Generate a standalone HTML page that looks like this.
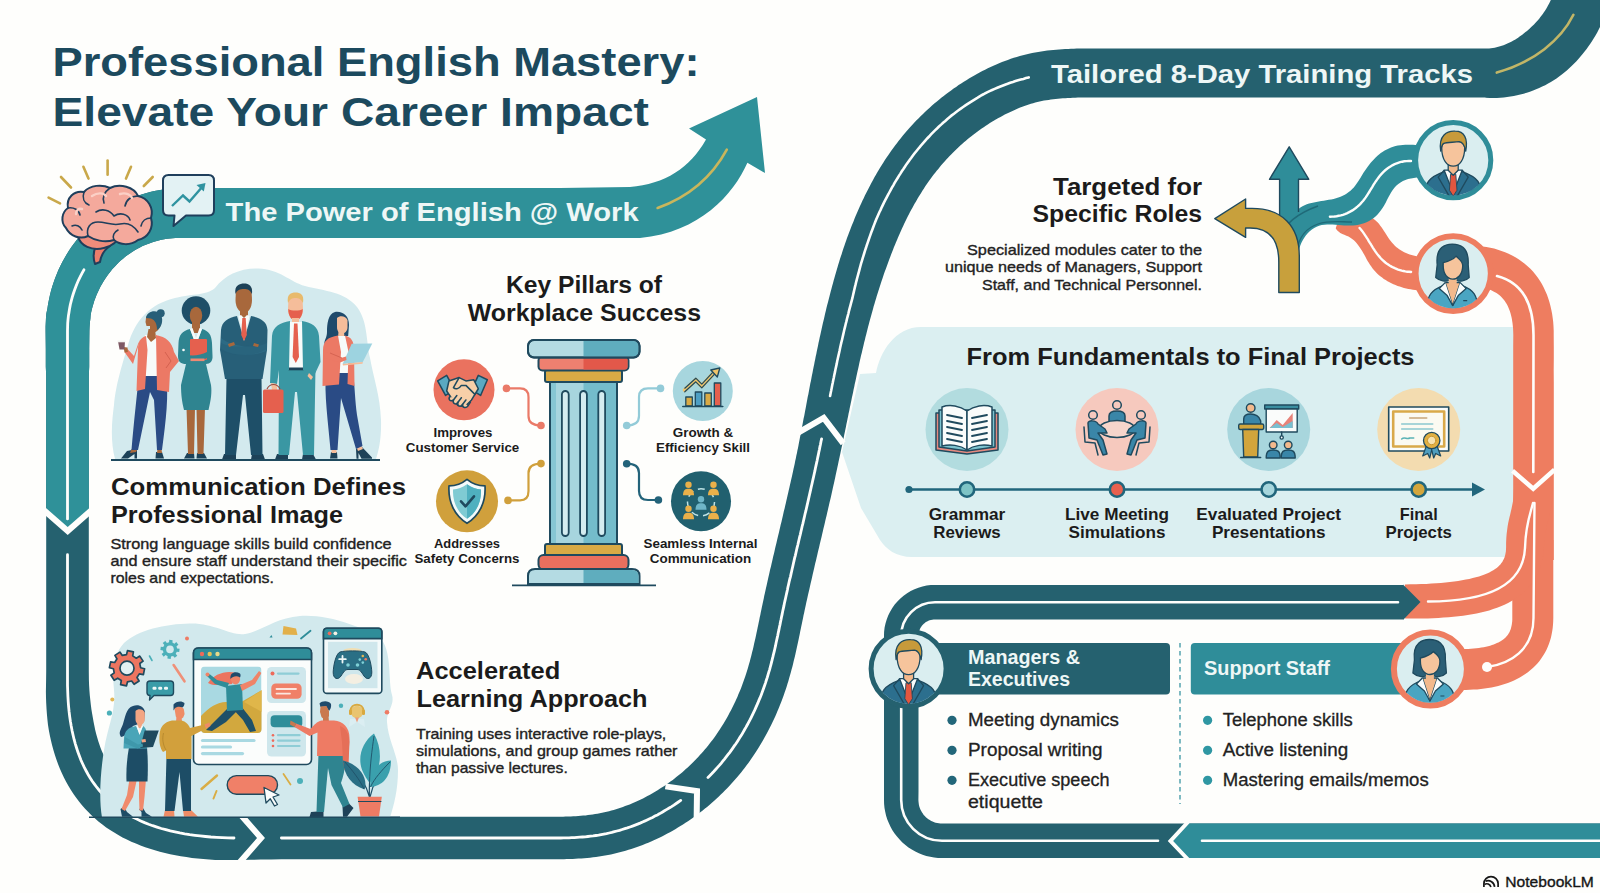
<!DOCTYPE html>
<html lang="en"><head><meta charset="utf-8"><title>Professional English Mastery: Elevate Your Career Impact</title>
<style>
html,body{margin:0;padding:0;background:#fefefc;}
body{width:1600px;height:893px;overflow:hidden;}
svg{display:block;font-family:"Liberation Sans", "DejaVu Sans", sans-serif;}
text{font-family:"Liberation Sans", "DejaVu Sans", sans-serif;}
</style></head><body>
<svg width="1600" height="893" viewBox="0 0 1600 893">
<rect width="1600" height="893" fill="#fefefc"/>
<g id="part_panel">
<path d="M921,327 L1530,327 L1530,557 L912,557 C896,557 886,549 880,540 L861,508 L842,452 L860,374 L876,373 C880,352 895,327 921,327 Z" fill="#dbeff1"/>
<text x="1190.5" y="364.5" font-size="23" font-weight="bold" fill="#1b1b1b" text-anchor="middle" textLength="448" lengthAdjust="spacingAndGlyphs">From Fundamentals to Final Projects</text>
<line x1="909" y1="489.5" x2="1474" y2="489.5" stroke="#21667c" stroke-width="2.6"/>
<circle cx="909" cy="489.5" r="3.6" fill="#21667c"/>
<path d="M1472,482.6 L1485,489.5 L1472,496.4 Z" fill="#21667c"/>
<circle cx="967" cy="429.5" r="41.5" fill="#b2dcdf"/>
<circle cx="967" cy="489.5" r="7.2" fill="#7ec4c6" stroke="#21667c" stroke-width="2.6"/>
<circle cx="1117" cy="429.5" r="41.5" fill="#f6c9be"/>
<circle cx="1117" cy="489.5" r="7.2" fill="#e8614f" stroke="#21667c" stroke-width="2.6"/>
<circle cx="1268.7" cy="429.5" r="41.5" fill="#a8d6dd"/>
<circle cx="1268.7" cy="489.5" r="7.2" fill="#a6d6dd" stroke="#21667c" stroke-width="2.6"/>
<circle cx="1418.7" cy="429.5" r="41.5" fill="#f3dcb0"/>
<circle cx="1418.7" cy="489.5" r="7.2" fill="#d4a63c" stroke="#21667c" stroke-width="2.6"/>
<text x="967" y="520" font-size="16.5" font-weight="bold" fill="#1b1b1b" text-anchor="middle" textLength="76.6" lengthAdjust="spacingAndGlyphs">Grammar</text>
<text x="967" y="538.3" font-size="16.5" font-weight="bold" fill="#1b1b1b" text-anchor="middle" textLength="67.5" lengthAdjust="spacingAndGlyphs">Reviews</text>
<text x="1117" y="520" font-size="16.5" font-weight="bold" fill="#1b1b1b" text-anchor="middle" textLength="104" lengthAdjust="spacingAndGlyphs">Live Meeting</text>
<text x="1117" y="538.3" font-size="16.5" font-weight="bold" fill="#1b1b1b" text-anchor="middle" textLength="97" lengthAdjust="spacingAndGlyphs">Simulations</text>
<text x="1268.7" y="520" font-size="16.5" font-weight="bold" fill="#1b1b1b" text-anchor="middle" textLength="144.7" lengthAdjust="spacingAndGlyphs">Evaluated Project</text>
<text x="1268.7" y="538.3" font-size="16.5" font-weight="bold" fill="#1b1b1b" text-anchor="middle" textLength="113.6" lengthAdjust="spacingAndGlyphs">Presentations</text>
<text x="1418.7" y="520" font-size="16.5" font-weight="bold" fill="#1b1b1b" text-anchor="middle" textLength="38" lengthAdjust="spacingAndGlyphs">Final</text>
<text x="1418.7" y="538.3" font-size="16.5" font-weight="bold" fill="#1b1b1b" text-anchor="middle" textLength="66.4" lengthAdjust="spacingAndGlyphs">Projects</text>
<g transform="translate(967,430)" stroke="#1f4a5e" stroke-width="1.5" stroke-linejoin="round">
<path d="M-31,-17 L-31,20 L0,24 L31,20 L31,-17 Z" fill="#e58a80"/>
<path d="M-28,-20 L-28,17 L0,21 L28,17 L28,-20 Z" fill="#7cc3cf"/>
<path d="M-25,-23 C-17,-26 -7,-24 0,-19 L0,20 C-7,15 -17,14 -25,16 Z" fill="#fafcfb"/>
<path d="M25,-23 C17,-26 7,-24 0,-19 L0,20 C7,15 17,14 25,16 Z" fill="#fafcfb"/>
<g stroke-width="1.8" stroke-linecap="round" fill="none">
<path d="M-20,-15 L-5,-12 M-20,-9 L-5,-6 M-20,-3 L-5,0 M-20,3 L-5,6 M-20,9 L-5,12"/>
<path d="M20,-15 L5,-12 M20,-9 L5,-6 M20,-3 L5,0 M20,3 L5,6 M20,9 L5,12"/>
</g></g>
<g transform="translate(1117,430)" stroke="#1f4a5e" stroke-width="1.5" stroke-linejoin="round" stroke-linecap="round">
<circle cx="0" cy="-25" r="4.3" fill="#f6c9be"/>
<path d="M-8,-8 L-8,-14 C-8,-18 -5,-19 0,-19 C5,-19 8,-18 8,-14 L8,-8 Z" fill="#3a86a8"/>
<ellipse cx="0" cy="-1" rx="18" ry="8.5" fill="#f6d5cb"/>
<circle cx="-24" cy="-15" r="4.3" fill="#f6c9be"/>
<circle cx="24" cy="-15" r="4.3" fill="#f6c9be"/>
<path d="M-29,-7 C-29,-10 -21,-10 -19,-6 L-12,-1 L-10,3 L-19,3 L-14,10 L-10,24 L-14,25 L-20,10 L-28,8 Z" fill="#3a86a8"/>
<path d="M29,-7 C29,-10 21,-10 19,-6 L12,-1 L10,3 L19,3 L14,10 L10,24 L14,25 L20,10 L28,8 Z" fill="#3a86a8"/>
<path d="M-33,-3 L-32,12 L-22,13 L-19,25 M33,-3 L32,12 L22,13 L19,25" fill="none"/>
</g>
<g transform="translate(1268.7,430)" stroke="#1f4a5e" stroke-width="1.4" stroke-linejoin="round" stroke-linecap="round">
<circle cx="-18" cy="-22" r="4.3" fill="#f3b98c"/>
<path d="M-25,-5 L-25,-11 C-25,-15 -22,-16 -18,-16 C-14,-16 -9,-14 -8,-9 L-8,-5 Z" fill="#3a86a8"/>
<rect x="-30" y="-6" width="25" height="5.5" rx="1.5" fill="#d2a53c"/>
<path d="M-26,-0.5 L-10,-0.5 L-11,27 L-25,27 Z" fill="#d2a53c"/>
<line x1="-28" y1="27.5" x2="-8" y2="27.5"/>
<rect x="-4" y="-25" width="34" height="4" fill="#3a8ea0"/>
<rect x="-2.5" y="-21" width="31" height="23" fill="#fafcfb"/>
<path d="M1,-2 L8,-10 L14,-5 L24,-17 L24,-2 Z" fill="#e7837a" stroke="none"/>
<path d="M1,-2 L8,-7 L14,-3 L24,-9 L24,-2 Z" fill="#79bfd0" stroke="none"/>
<line x1="13" y1="2" x2="13" y2="6"/><circle cx="13" cy="7.5" r="1.6" fill="#fafcfb"/>
<circle cx="4.5" cy="15" r="3.8" fill="#f3b98c"/><circle cx="19.5" cy="15" r="3.8" fill="#f3b98c"/>
<path d="M-2.5,28 C-2.5,21 0,20 4.5,20 C9,20 11.5,21 11.5,28 Z" fill="#3a86a8"/>
<path d="M12.5,28 C12.5,21 15,20 19.5,20 C24,20 26.5,21 26.5,28 Z" fill="#3a86a8"/>
</g>
<g transform="translate(1418.7,430)" stroke-linejoin="round" stroke-linecap="round">
<rect x="-30" y="-23" width="60" height="44" fill="#fafcfb" stroke="#1f4a5e" stroke-width="1.6"/>
<rect x="-25.5" y="-18.5" width="51" height="35" fill="#fbfaf2" stroke="#d9a94a" stroke-width="2.6"/>
<line x1="-9" y1="-12" x2="8" y2="-12" stroke="#c9a77a" stroke-width="1.6"/>
<line x1="-17" y1="-6" x2="14" y2="-6" stroke="#8cc7cf" stroke-width="1.6"/>
<line x1="-17" y1="-1" x2="14" y2="-1" stroke="#8cc7cf" stroke-width="1.6"/>
<path d="M-17,9 C-14,6 -12,10 -9,8 L-5,8" fill="none" stroke="#5ab3b5" stroke-width="1.6"/>
<path d="M8,15 L4,26 L9,23.5 L11,28 L14,16 Z" fill="#4f9fc0" stroke="#1f4a5e" stroke-width="1.2"/>
<path d="M18,15 L22,26 L17,23.5 L15,28 L12,16 Z" fill="#4f9fc0" stroke="#1f4a5e" stroke-width="1.2"/>
<circle cx="13" cy="10.5" r="8.2" fill="#e2b043" stroke="#1f4a5e" stroke-width="1.3"/>
<circle cx="13" cy="10.5" r="4.2" fill="#f7e3b0" stroke="#c8962e" stroke-width="1"/>
</g>
</g>
<g id="part_road">
<path d="M640.0,188.0 L624.2,188.0 L608.3,188.0 L592.5,188.0 L576.7,188.0 L560.9,188.0 L545.0,188.0 L529.2,188.0 L513.4,188.0 L497.6,188.0 L481.7,188.0 L465.9,188.0 L450.1,188.0 L434.2,188.0 L418.4,188.0 L402.6,188.0 L386.8,188.0 L370.9,188.0 L355.1,188.0 L339.3,188.0 L323.4,188.0 L307.6,188.0 L291.8,188.0 L276.0,188.0 L260.1,188.0 L244.3,188.0 L228.5,188.0 L212.7,188.0 L196.8,188.0 L180.9,188.1 L176.5,188.2 L172.1,188.5 L167.6,188.9 L163.2,189.5 L158.8,190.2 L154.4,191.1 L150.1,192.1 L145.8,193.3 L141.5,194.6 L137.3,196.1 L133.1,197.6 L129.0,199.4 L125.0,201.2 L121.0,203.2 L117.1,205.3 L113.2,207.6 L109.5,210.0 L105.8,212.5 L102.2,215.1 L98.7,217.8 L95.2,220.7 L91.9,223.6 L88.7,226.7 L85.5,229.8 L82.5,233.1 L79.5,236.4 L76.7,239.9 L74.0,243.4 L71.4,247.1 L68.9,250.8 L66.6,254.5 L64.3,258.4 L62.2,262.3 L60.2,266.3 L58.3,270.3 L56.6,274.4 L55.0,278.6 L53.5,282.8 L52.1,287.1 L50.9,291.3 L49.8,295.7 L48.9,300.0 L48.0,304.4 L47.4,308.8 L46.4,313.2 L46.0,317.6 L45.8,322.1 L45.6,326.5 L45.6,330.9 L45.7,339.9 L45.8,348.9 L45.8,357.8 L45.8,366.8 L46.2,375.7 L46.2,384.7 L46.2,393.6 L46.2,402.6 L46.2,411.5 L46.2,420.5 L46.2,429.4 L46.2,438.4 L46.2,447.3 L46.2,456.3 L46.2,465.2 L46.2,474.2 L46.2,483.1 L46.2,492.1 L46.2,501.0 L46.2,510.0 L46.2,518.9 L46.2,527.9 L46.2,536.8 L46.2,545.8 L46.2,554.7 L46.2,563.7 L46.2,572.6 L46.2,581.6 L46.2,590.5 L46.2,599.5 L46.2,608.4 L46.2,617.4 L46.2,626.3 L46.2,635.3 L46.2,644.2 L46.2,653.2 L46.2,662.1 L46.2,671.1 L46.1,680.1 L46.0,685.9 L45.9,691.7 L46.0,697.4 L46.2,703.1 L46.5,708.6 L46.9,714.1 L47.4,719.5 L48.0,724.9 L48.8,730.1 L49.8,735.2 L50.9,740.3 L52.1,745.2 L53.4,750.1 L54.9,754.9 L56.4,759.6 L58.1,764.2 L59.9,768.7 L61.9,773.2 L63.9,777.5 L66.1,781.8 L68.5,785.9 L70.9,790.0 L73.5,794.0 L76.2,797.8 L79.0,801.6 L82.0,805.2 L85.1,808.7 L88.3,812.1 L91.7,815.4 L95.1,818.6 L98.7,821.7 L102.4,824.6 L106.2,827.4 L110.1,830.1 L114.2,832.6 L118.3,835.1 L122.5,837.4 L126.9,839.6 L131.3,841.7 L135.9,843.6 L140.5,845.5 L145.2,847.2 L150.0,848.8 L154.9,850.3 L159.9,851.7 L165.0,853.0 L170.2,854.2 L175.5,855.2 L180.9,856.2 L186.4,857.1 L191.9,857.9 L197.6,858.6 L203.4,859.1 L209.2,859.6 L215.2,859.9 L221.2,860.0 L227.4,860.1 L233.7,860.0 L239.9,859.9 L250.3,859.8 L260.7,859.6 L271.0,859.4 L281.4,859.2 L291.7,859.2 L302.1,859.2 L312.4,859.2 L322.8,859.2 L333.1,859.2 L343.4,859.2 L353.8,859.2 L364.1,859.2 L374.5,859.2 L384.8,859.2 L395.2,859.2 L405.5,859.2 L415.9,859.2 L426.2,859.2 L436.6,859.2 L446.9,859.2 L457.2,859.2 L467.6,859.2 L477.9,859.2 L488.3,859.2 L498.6,859.2 L509.0,859.2 L519.3,859.2 L529.7,859.2 L540.0,859.2 L541.6,859.3 L544.4,859.3 L547.1,859.3 L549.9,859.3 L552.7,859.3 L555.5,859.3 L558.3,859.3 L561.1,859.2 L564.0,859.2 L566.8,859.1 L569.7,859.0 L572.6,858.9 L575.5,858.8 L578.4,858.6 L581.3,858.4 L584.2,858.2 L587.2,857.9 L590.1,857.7 L593.1,857.3 L596.0,856.9 L599.0,856.5 L602.0,856.1 L605.0,855.5 L608.0,855.0 L610.9,854.4 L613.9,853.7 L616.8,853.0 L619.7,852.3 L622.7,851.5 L625.6,850.7 L628.5,849.8 L631.3,848.9 L634.2,848.0 L637.1,847.0 L639.9,846.0 L642.7,844.9 L645.5,843.8 L648.3,842.7 L651.1,841.5 L653.8,840.3 L656.6,839.0 L659.3,837.7 L662.0,836.4 L664.7,835.0 L667.4,833.6 L670.0,832.2 L672.7,830.7 L675.3,829.2 L677.9,827.6 L680.4,826.1 L683.0,824.5 L685.5,822.8 L688.0,821.2 L690.5,819.5 L693.0,817.7 L695.5,816.0 L697.9,814.2 L700.3,812.3 L702.7,810.5 L705.0,808.6 L707.4,806.7 L709.7,804.7 L711.9,802.8 L714.2,800.8 L716.4,798.7 L718.6,796.7 L720.8,794.6 L723.0,792.5 L725.1,790.3 L727.2,788.2 L729.3,786.0 L731.3,783.8 L733.3,781.5 L735.3,779.3 L737.3,777.0 L739.2,774.7 L741.1,772.4 L743.0,770.0 L744.8,767.7 L746.6,765.3 L748.4,762.9 L750.1,760.4 L751.8,758.0 L753.5,755.5 L755.2,753.0 L756.8,750.5 L758.4,748.0 L759.9,745.5 L761.4,742.9 L762.9,740.4 L764.4,737.8 L765.8,735.2 L767.3,732.6 L768.6,730.0 L770.0,727.3 L771.3,724.7 L772.6,722.0 L773.8,719.4 L775.1,716.7 L776.3,714.0 L777.4,711.3 L778.6,708.6 L779.7,705.8 L780.8,703.1 L781.8,700.4 L782.9,697.6 L783.9,694.8 L784.8,692.1 L785.8,689.3 L786.7,686.5 L787.5,683.7 L788.4,680.9 L789.2,678.1 L790.0,675.3 L790.8,672.6 L791.5,669.8 L792.3,667.0 L793.0,664.2 L793.6,661.5 L794.3,658.7 L795.0,656.0 L795.6,653.2 L796.2,650.5 L796.8,647.7 L797.4,645.0 L798.0,642.3 L798.6,639.6 L799.1,636.9 L799.7,634.2 L800.2,631.5 L800.8,628.8 L801.3,626.2 L801.9,623.5 L802.4,620.9 L803.0,618.3 L803.5,615.6 L804.1,613.0 L804.6,610.4 L805.2,607.8 L805.8,605.1 L806.3,602.5 L806.9,599.9 L807.5,597.3 L808.1,594.6 L808.7,592.0 L809.3,589.4 L809.9,586.7 L810.5,584.1 L811.1,581.5 L811.7,578.9 L812.3,576.2 L812.9,573.6 L813.5,571.0 L814.1,568.4 L814.7,565.7 L815.3,563.1 L816.0,560.5 L816.6,557.8 L817.2,555.2 L817.8,552.6 L818.4,549.9 L819.1,547.3 L819.7,544.6 L820.3,542.0 L820.9,539.4 L821.6,536.7 L822.2,534.1 L822.8,531.4 L823.4,528.8 L824.1,526.1 L824.7,523.5 L825.3,520.8 L825.9,518.2 L826.6,515.5 L827.2,512.8 L827.8,510.2 L828.4,507.5 L829.0,504.9 L829.6,502.2 L830.3,499.5 L830.9,496.9 L831.5,494.2 L832.1,491.5 L832.7,488.8 L833.3,486.1 L833.9,483.5 L834.5,480.8 L835.1,478.1 L835.6,475.4 L836.2,472.7 L836.8,470.0 L837.4,467.3 L838.0,464.6 L838.5,461.9 L839.1,459.2 L839.7,456.5 L840.3,453.8 L840.8,451.2 L841.4,448.5 L842.0,445.8 L842.5,443.1 L843.1,440.4 L843.7,437.7 L844.2,435.0 L844.8,432.3 L845.3,429.7 L845.9,427.0 L846.4,424.3 L847.0,421.6 L847.5,418.9 L848.1,416.3 L848.6,413.6 L849.2,410.9 L849.7,408.3 L850.3,405.6 L850.8,402.9 L851.4,400.2 L851.9,397.6 L852.5,394.9 L853.1,392.3 L853.6,389.6 L854.2,387.0 L854.7,384.3 L855.3,381.7 L855.9,379.0 L856.4,376.4 L857.0,373.7 L857.6,371.1 L858.2,368.4 L858.8,365.8 L859.3,363.2 L859.9,360.6 L860.5,357.9 L861.1,355.3 L861.8,352.7 L862.4,350.1 L863.0,347.5 L863.6,344.9 L864.2,342.3 L864.9,339.7 L865.5,337.1 L866.2,334.5 L866.8,331.9 L867.5,329.3 L868.1,326.8 L868.8,324.2 L869.5,321.6 L870.2,319.1 L870.9,316.5 L871.6,313.9 L872.3,311.4 L873.0,308.9 L873.7,306.3 L874.5,303.8 L875.2,301.2 L876.0,298.7 L876.7,296.2 L877.5,293.7 L878.3,291.2 L879.1,288.7 L879.9,286.2 L880.7,283.7 L881.5,281.2 L882.4,278.7 L883.2,276.3 L884.0,273.8 L884.9,271.3 L885.8,268.9 L886.7,266.4 L887.6,264.0 L888.5,261.6 L889.4,259.1 L890.3,256.7 L891.2,254.3 L892.1,251.9 L893.1,249.4 L894.0,247.1 L895.0,244.7 L896.0,242.3 L897.0,239.9 L898.0,237.5 L899.0,235.2 L900.0,232.9 L901.1,230.5 L902.1,228.2 L903.2,225.9 L904.3,223.6 L905.4,221.3 L906.5,219.1 L907.6,216.8 L908.8,214.6 L909.9,212.3 L911.1,210.1 L912.3,207.9 L913.5,205.7 L914.7,203.5 L916.0,201.4 L917.2,199.2 L918.5,197.1 L919.8,195.0 L921.1,192.9 L922.4,190.8 L923.8,188.7 L925.1,186.6 L926.5,184.6 L927.9,182.6 L929.3,180.6 L930.8,178.6 L932.2,176.6 L933.7,174.6 L935.2,172.7 L936.7,170.8 L938.3,168.9 L939.8,167.0 L941.4,165.1 L943.0,163.3 L944.6,161.4 L946.3,159.6 L948.0,157.8 L949.6,156.0 L951.4,154.2 L953.1,152.5 L954.9,150.7 L956.7,149.0 L958.5,147.3 L960.3,145.6 L962.1,144.0 L964.0,142.3 L965.9,140.7 L967.8,139.1 L969.7,137.6 L971.7,136.0 L973.6,134.5 L975.6,133.0 L977.6,131.5 L979.6,130.0 L981.7,128.6 L983.7,127.2 L985.8,125.8 L987.8,124.4 L989.9,123.1 L992.0,121.8 L994.1,120.5 L996.2,119.3 L998.4,118.1 L1000.5,116.9 L1002.7,115.7 L1004.8,114.6 L1007.0,113.5 L1009.2,112.4 L1011.4,111.4 L1013.6,110.4 L1015.7,109.4 L1017.9,108.5 L1020.1,107.6 L1022.3,106.8 L1024.4,106.0 L1026.6,105.2 L1028.8,104.5 L1030.9,103.8 L1033.1,103.2 L1035.3,102.6 L1037.4,102.0 L1039.6,101.5 L1041.8,101.1 L1044.0,100.6 L1046.3,100.2 L1048.6,99.9 L1050.9,99.5 L1053.2,99.2 L1055.6,99.0 L1058.0,98.7 L1060.4,98.5 L1062.8,98.3 L1065.3,98.2 L1067.8,98.0 L1070.3,97.9 L1072.8,97.8 L1075.3,97.7 L1077.9,97.6 L1080.5,97.6 L1083.1,97.5 L1085.7,97.5 L1088.3,97.5 L1090.0,97.5 L1103.7,97.5 L1117.4,97.5 L1131.1,97.5 L1144.8,97.5 L1158.4,97.5 L1172.1,97.5 L1185.8,97.5 L1199.5,97.5 L1213.2,97.5 L1226.9,97.5 L1240.6,97.5 L1254.3,97.5 L1268.0,97.5 L1281.7,97.5 L1295.3,97.5 L1309.0,97.5 L1322.7,97.5 L1336.4,97.5 L1350.1,97.5 L1363.8,97.5 L1377.5,97.5 L1391.2,97.5 L1404.9,97.5 L1418.6,97.5 L1432.2,97.5 L1445.9,97.5 L1459.6,97.5 L1473.3,97.6 L1486.6,97.6 L1484.8,97.8 L1490.0,98.0 L1493.4,98.0 L1496.9,97.9 L1500.3,97.7 L1503.7,97.4 L1507.1,97.1 L1510.4,96.6 L1513.8,96.0 L1517.1,95.3 L1520.3,94.6 L1523.6,93.7 L1526.8,92.7 L1529.9,91.7 L1533.1,90.6 L1536.1,89.3 L1539.2,88.0 L1542.2,86.6 L1545.2,85.2 L1548.1,83.6 L1550.9,82.0 L1553.7,80.2 L1556.5,78.4 L1559.1,76.5 L1561.8,74.6 L1564.3,72.5 L1566.8,70.4 L1569.2,68.3 L1571.6,66.0 L1573.9,63.7 L1576.2,61.4 L1578.4,59.0 L1580.5,56.6 L1582.6,54.1 L1584.6,51.5 L1586.6,49.0 L1588.5,46.3 L1590.3,43.7 L1592.1,41.0 L1593.8,38.2 L1595.5,35.5 L1597.1,32.7 L1598.6,29.8 L1600.1,26.9 L1601.5,24.0 L1602.8,21.1 L1604.1,18.1 L1605.3,15.1 L1606.4,12.1 L1607.5,9.1 L1608.5,6.0 L1609.4,2.9 L1610.2,-0.3 L1611.0,-3.4 L1611.7,-6.6 L1612.4,-9.8 L1612.9,-13.0 L1613.4,-16.2 L1613.8,-19.4 L1614.1,-22.3 L1558.3,-27.7 L1558.1,-25.5 L1557.9,-23.6 L1557.6,-21.8 L1557.3,-19.9 L1556.9,-18.1 L1556.5,-16.2 L1556.1,-14.4 L1555.5,-12.5 L1555.0,-10.7 L1554.4,-8.8 L1553.8,-7.0 L1553.1,-5.1 L1552.3,-3.3 L1551.6,-1.5 L1550.7,0.3 L1549.9,2.1 L1549.0,3.8 L1548.0,5.6 L1547.1,7.3 L1546.1,9.0 L1545.0,10.7 L1543.9,12.3 L1542.8,14.0 L1541.6,15.5 L1540.4,17.1 L1539.2,18.7 L1537.9,20.2 L1536.7,21.6 L1535.3,23.1 L1534.0,24.5 L1532.6,25.8 L1531.2,27.1 L1529.8,28.4 L1528.4,29.7 L1527.0,30.9 L1525.5,32.1 L1524.0,33.3 L1522.6,34.4 L1521.1,35.5 L1519.6,36.6 L1518.1,37.7 L1516.5,38.7 L1515.0,39.7 L1513.4,40.6 L1511.8,41.5 L1510.2,42.3 L1508.5,43.1 L1506.9,43.8 L1505.2,44.5 L1503.5,45.2 L1501.8,45.8 L1500.1,46.3 L1498.3,46.8 L1496.5,47.3 L1494.7,47.7 L1492.9,48.0 L1491.0,48.3 L1489.1,48.4 L1488.9,48.6 L1487.4,48.4 L1473.3,48.4 L1459.6,48.5 L1445.9,48.5 L1432.2,48.5 L1418.6,48.5 L1404.9,48.5 L1391.2,48.5 L1377.5,48.5 L1363.8,48.5 L1350.1,48.5 L1336.4,48.5 L1322.7,48.5 L1309.0,48.5 L1295.3,48.5 L1281.7,48.5 L1268.0,48.5 L1254.3,48.5 L1240.6,48.5 L1226.9,48.5 L1213.2,48.5 L1199.5,48.5 L1185.8,48.5 L1172.1,48.5 L1158.4,48.5 L1144.8,48.5 L1131.1,48.5 L1117.4,48.5 L1103.7,48.5 L1090.0,48.5 L1088.1,48.5 L1085.3,48.5 L1082.5,48.6 L1079.6,48.6 L1076.8,48.6 L1073.9,48.7 L1071.0,48.8 L1068.1,48.9 L1065.1,49.1 L1062.2,49.3 L1059.2,49.5 L1056.3,49.7 L1053.3,50.0 L1050.3,50.3 L1047.3,50.6 L1044.3,51.0 L1041.2,51.4 L1038.2,51.9 L1035.1,52.5 L1032.1,53.0 L1029.0,53.7 L1025.9,54.4 L1022.9,55.2 L1019.8,56.0 L1016.8,56.9 L1013.8,57.8 L1010.8,58.8 L1007.8,59.9 L1004.9,60.9 L1002.0,62.1 L999.1,63.2 L996.3,64.4 L993.4,65.7 L990.6,67.0 L987.8,68.3 L985.1,69.7 L982.3,71.1 L979.6,72.5 L976.9,74.0 L974.3,75.5 L971.6,77.0 L969.0,78.6 L966.4,80.2 L963.8,81.8 L961.2,83.5 L958.6,85.1 L956.1,86.9 L953.6,88.6 L951.1,90.4 L948.6,92.2 L946.2,94.0 L943.7,95.9 L941.3,97.8 L939.0,99.7 L936.6,101.7 L934.3,103.6 L932.0,105.6 L929.7,107.7 L927.4,109.7 L925.2,111.8 L923.0,113.9 L920.8,116.0 L918.7,118.2 L916.5,120.3 L914.4,122.5 L912.4,124.7 L910.3,127.0 L908.3,129.2 L906.3,131.5 L904.4,133.8 L902.5,136.1 L900.6,138.4 L898.7,140.8 L896.9,143.2 L895.1,145.5 L893.3,147.9 L891.6,150.3 L889.9,152.8 L888.2,155.2 L886.6,157.6 L884.9,160.1 L883.4,162.6 L881.8,165.1 L880.2,167.6 L878.7,170.1 L877.2,172.6 L875.8,175.1 L874.3,177.6 L872.9,180.2 L871.5,182.7 L870.2,185.3 L868.8,187.9 L867.5,190.5 L866.2,193.0 L864.9,195.6 L863.7,198.2 L862.4,200.8 L861.2,203.5 L860.0,206.1 L858.8,208.7 L857.7,211.3 L856.5,214.0 L855.4,216.6 L854.3,219.2 L853.3,221.9 L852.2,224.5 L851.1,227.2 L850.1,229.9 L849.1,232.5 L848.1,235.2 L847.1,237.8 L846.2,240.5 L845.2,243.2 L844.3,245.9 L843.4,248.5 L842.5,251.2 L841.7,253.9 L840.8,256.6 L839.9,259.3 L839.1,261.9 L838.3,264.6 L837.5,267.3 L836.7,270.0 L835.9,272.7 L835.1,275.4 L834.4,278.1 L833.6,280.8 L832.9,283.5 L832.1,286.2 L831.4,288.9 L830.7,291.6 L830.0,294.3 L829.3,297.0 L828.6,299.7 L827.9,302.4 L827.2,305.1 L826.5,307.8 L825.9,310.6 L825.2,313.3 L824.6,316.0 L824.0,318.7 L823.3,321.4 L822.7,324.1 L822.1,326.8 L821.5,329.5 L820.9,332.2 L820.3,334.9 L819.7,337.6 L819.1,340.4 L818.5,343.1 L818.0,345.8 L817.4,348.5 L816.8,351.2 L816.3,353.9 L815.7,356.6 L815.2,359.3 L814.6,362.0 L814.1,364.7 L813.5,367.4 L813.0,370.1 L812.5,372.8 L811.9,375.5 L811.4,378.2 L810.9,380.9 L810.3,383.6 L809.8,386.3 L809.3,389.0 L808.8,391.7 L808.3,394.4 L807.7,397.1 L807.2,399.8 L806.7,402.5 L806.2,405.2 L805.7,407.9 L805.2,410.6 L804.7,413.2 L804.2,415.9 L803.6,418.6 L803.1,421.3 L802.6,423.9 L802.1,426.6 L801.6,429.3 L801.1,432.0 L800.6,434.6 L800.0,437.3 L799.5,439.9 L799.0,442.6 L798.5,445.3 L798.0,447.9 L797.4,450.6 L796.9,453.2 L796.3,455.8 L795.8,458.5 L795.2,461.1 L794.7,463.8 L794.1,466.4 L793.5,469.0 L793.0,471.6 L792.4,474.3 L791.8,476.9 L791.2,479.5 L790.6,482.2 L790.0,484.8 L789.4,487.4 L788.8,490.1 L788.2,492.7 L787.6,495.3 L787.0,497.9 L786.4,500.6 L785.8,503.2 L785.2,505.8 L784.6,508.5 L783.9,511.1 L783.3,513.7 L782.7,516.4 L782.1,519.0 L781.5,521.7 L780.8,524.3 L780.2,526.9 L779.6,529.6 L779.0,532.2 L778.3,534.9 L777.7,537.5 L777.1,540.1 L776.5,542.8 L775.8,545.4 L775.2,548.1 L774.6,550.7 L774.0,553.4 L773.3,556.0 L772.7,558.7 L772.1,561.4 L771.5,564.0 L770.9,566.7 L770.2,569.3 L769.6,572.0 L769.0,574.7 L768.4,577.3 L767.8,580.0 L767.2,582.7 L766.6,585.4 L766.0,588.0 L765.4,590.7 L764.8,593.4 L764.2,596.1 L763.7,598.8 L763.1,601.5 L762.5,604.2 L761.9,606.9 L761.4,609.6 L760.8,612.2 L760.3,614.9 L759.7,617.6 L759.2,620.3 L758.6,622.9 L758.1,625.6 L757.5,628.2 L757.0,630.8 L756.4,633.5 L755.9,636.1 L755.3,638.7 L754.7,641.2 L754.1,643.8 L753.6,646.3 L753.0,648.9 L752.3,651.4 L751.7,653.9 L751.1,656.4 L750.4,658.9 L749.8,661.4 L749.1,663.8 L748.4,666.3 L747.7,668.7 L747.0,671.1 L746.2,673.5 L745.4,675.9 L744.6,678.3 L743.8,680.6 L742.9,683.0 L742.1,685.3 L741.2,687.7 L740.3,690.0 L739.3,692.3 L738.3,694.6 L737.4,696.9 L736.3,699.2 L735.3,701.5 L734.2,703.7 L733.1,706.0 L732.0,708.2 L730.9,710.4 L729.7,712.6 L728.6,714.8 L727.4,717.0 L726.1,719.2 L724.9,721.3 L723.6,723.4 L722.3,725.5 L721.0,727.6 L719.6,729.7 L718.2,731.8 L716.9,733.8 L715.4,735.9 L714.0,737.9 L712.5,739.9 L711.0,741.8 L709.5,743.8 L708.0,745.7 L706.4,747.7 L704.8,749.6 L703.2,751.4 L701.6,753.3 L699.9,755.1 L698.2,757.0 L696.5,758.8 L694.8,760.5 L693.1,762.3 L691.3,764.0 L689.5,765.7 L687.7,767.4 L685.8,769.1 L684.0,770.8 L682.1,772.4 L680.2,774.0 L678.2,775.6 L676.3,777.1 L674.3,778.7 L672.4,780.2 L670.4,781.6 L668.4,783.1 L666.3,784.5 L664.3,785.9 L662.2,787.3 L660.1,788.6 L658.0,790.0 L655.9,791.2 L653.8,792.5 L651.7,793.7 L649.5,794.9 L647.4,796.1 L645.2,797.3 L643.0,798.4 L640.8,799.4 L638.6,800.5 L636.4,801.5 L634.1,802.5 L631.9,803.5 L629.7,804.4 L627.4,805.3 L625.1,806.1 L622.9,806.9 L620.6,807.7 L618.3,808.5 L616.0,809.2 L613.7,809.9 L611.4,810.6 L609.1,811.2 L606.8,811.7 L604.4,812.3 L602.1,812.8 L599.8,813.3 L597.5,813.7 L595.1,814.1 L592.8,814.5 L590.4,814.8 L588.0,815.1 L585.6,815.4 L583.2,815.6 L580.8,815.8 L578.3,816.0 L575.8,816.2 L573.3,816.3 L570.8,816.5 L568.2,816.6 L565.7,816.6 L563.1,816.7 L560.5,816.7 L557.9,816.8 L555.3,816.8 L552.6,816.8 L550.0,816.8 L547.3,816.8 L544.6,816.8 L541.9,816.8 L540.0,816.8 L529.7,816.8 L519.3,816.8 L509.0,816.8 L498.6,816.8 L488.3,816.8 L477.9,816.8 L467.6,816.8 L457.2,816.8 L446.9,816.8 L436.6,816.8 L426.2,816.8 L415.9,816.8 L405.5,816.8 L395.2,816.8 L384.8,816.8 L374.5,816.8 L364.1,816.8 L353.8,816.8 L343.4,816.8 L333.1,816.8 L322.8,816.8 L312.4,816.7 L302.1,816.8 L291.7,816.8 L281.4,816.8 L271.0,816.6 L260.7,816.4 L250.3,816.2 L240.1,816.1 L234.3,815.9 L228.7,815.6 L223.2,815.2 L217.9,814.8 L212.7,814.3 L207.6,813.8 L202.6,813.3 L197.8,812.8 L193.1,812.1 L188.6,811.4 L184.1,810.6 L179.8,809.7 L175.7,808.7 L171.6,807.7 L167.7,806.6 L163.9,805.5 L160.2,804.2 L156.7,802.9 L153.3,801.6 L150.0,800.2 L146.8,798.7 L143.7,797.1 L140.8,795.5 L137.9,793.8 L135.2,792.1 L132.6,790.3 L130.0,788.4 L127.6,786.5 L125.3,784.5 L123.0,782.4 L120.8,780.3 L118.7,778.1 L116.7,775.8 L114.8,773.4 L112.9,771.0 L111.2,768.4 L109.4,765.8 L107.8,763.1 L106.2,760.3 L104.7,757.4 L103.3,754.3 L101.9,751.2 L100.6,748.0 L99.4,744.6 L98.3,741.2 L97.2,737.6 L96.2,733.9 L95.2,730.1 L94.4,726.1 L93.6,722.1 L92.9,717.9 L92.1,713.6 L91.4,709.2 L90.8,704.6 L90.3,700.0 L89.8,695.2 L89.4,690.2 L89.1,685.2 L88.9,679.9 L88.8,671.1 L88.8,662.1 L88.8,653.2 L88.8,644.2 L88.8,635.3 L88.8,626.3 L88.8,617.4 L88.8,608.4 L88.8,599.5 L88.8,590.5 L88.8,581.6 L88.8,572.6 L88.8,563.7 L88.8,554.7 L88.8,545.8 L88.8,536.8 L88.8,527.9 L88.8,518.9 L88.8,510.0 L88.8,501.0 L88.8,492.1 L88.8,483.1 L88.8,474.2 L88.8,465.2 L88.8,456.3 L88.8,447.3 L88.8,438.4 L88.8,429.4 L88.8,420.5 L88.8,411.5 L88.8,402.6 L88.8,393.6 L88.8,384.7 L88.8,375.7 L89.2,366.8 L89.2,357.8 L89.2,348.9 L89.3,339.9 L89.4,331.1 L89.5,327.9 L89.7,324.8 L90.0,321.7 L90.4,318.6 L90.6,315.5 L91.1,312.5 L91.8,309.5 L92.6,306.5 L93.5,303.5 L94.4,300.6 L95.5,297.7 L96.6,294.8 L97.9,292.0 L99.2,289.3 L100.5,286.5 L102.0,283.9 L103.6,281.3 L105.2,278.7 L106.9,276.2 L108.7,273.8 L110.5,271.4 L112.4,269.1 L114.4,266.9 L116.5,264.7 L118.6,262.6 L120.7,260.6 L123.0,258.7 L125.2,256.8 L127.6,255.1 L129.9,253.4 L132.4,251.7 L134.8,250.2 L137.4,248.8 L139.9,247.4 L142.5,246.1 L145.1,245.0 L147.8,243.9 L150.5,242.9 L153.2,242.0 L155.9,241.2 L158.6,240.4 L161.4,239.8 L164.2,239.3 L167.0,238.8 L169.8,238.5 L172.6,238.2 L175.4,238.0 L178.2,237.9 L181.1,237.9 L196.8,238.0 L212.7,238.0 L228.5,238.0 L244.3,238.0 L260.1,238.0 L276.0,238.0 L291.8,238.0 L307.6,238.0 L323.4,238.0 L339.3,238.0 L355.1,238.0 L370.9,238.0 L386.8,238.0 L402.6,238.0 L418.4,238.0 L434.2,238.0 L450.1,238.0 L465.9,238.0 L481.7,238.0 L497.6,238.0 L513.4,238.0 L529.2,238.0 L545.0,238.0 L560.9,238.0 L576.7,238.0 L592.5,238.0 L608.3,238.0 L624.2,238.0 L640.0,238.0Z" fill="#25616f"/>
<path d="M640.0,188.0 L624.2,188.0 L608.3,188.0 L592.5,188.0 L576.7,188.0 L560.9,188.0 L545.0,188.0 L529.2,188.0 L513.4,188.0 L497.6,188.0 L481.7,188.0 L465.9,188.0 L450.1,188.0 L434.2,188.0 L418.4,188.0 L402.6,188.0 L386.8,188.0 L370.9,188.0 L355.1,188.0 L339.3,188.0 L323.4,188.0 L307.6,188.0 L291.8,188.0 L276.0,188.0 L260.1,188.0 L244.3,188.0 L228.5,188.0 L212.7,188.0 L196.8,188.0 L180.9,188.1 L176.5,188.2 L172.1,188.5 L167.6,188.9 L163.2,189.5 L158.8,190.2 L154.4,191.1 L150.1,192.1 L145.8,193.3 L141.5,194.6 L137.3,196.1 L133.1,197.6 L129.0,199.4 L125.0,201.2 L121.0,203.2 L117.1,205.3 L113.2,207.6 L109.5,210.0 L105.8,212.5 L102.2,215.1 L98.7,217.8 L95.2,220.7 L91.9,223.6 L88.7,226.7 L85.5,229.8 L82.5,233.1 L79.5,236.4 L76.7,239.9 L74.0,243.4 L71.4,247.1 L68.9,250.8 L66.6,254.5 L64.3,258.4 L62.2,262.3 L60.2,266.3 L58.3,270.3 L56.6,274.4 L55.0,278.6 L53.5,282.8 L52.1,287.1 L50.9,291.3 L49.8,295.7 L48.9,300.0 L48.0,304.4 L47.4,308.8 L46.4,313.2 L46.0,317.6 L45.8,322.1 L45.6,326.5 L45.6,330.9 L45.7,339.9 L45.8,348.9 L45.8,357.8 L45.8,366.8 L46.2,375.7 L46.2,384.7 L46.2,393.6 L46.2,402.6 L46.2,411.5 L46.2,420.5 L46.2,429.4 L46.2,438.4 L46.2,447.3 L46.2,456.3 L46.2,465.2 L46.2,474.2 L46.2,483.1 L46.2,492.1 L46.2,501.0 L46.2,510.0 L67.7,530.0 L88.8,510.0 L88.8,501.0 L88.8,492.1 L88.8,483.1 L88.8,474.2 L88.8,465.2 L88.8,456.3 L88.8,447.3 L88.8,438.4 L88.8,429.4 L88.8,420.5 L88.8,411.5 L88.8,402.6 L88.8,393.6 L88.8,384.7 L88.8,375.7 L89.2,366.8 L89.2,357.8 L89.2,348.9 L89.3,339.9 L89.4,331.1 L89.5,327.9 L89.7,324.8 L90.0,321.7 L90.4,318.6 L90.6,315.5 L91.1,312.5 L91.8,309.5 L92.6,306.5 L93.5,303.5 L94.4,300.6 L95.5,297.7 L96.6,294.8 L97.9,292.0 L99.2,289.3 L100.5,286.5 L102.0,283.9 L103.6,281.3 L105.2,278.7 L106.9,276.2 L108.7,273.8 L110.5,271.4 L112.4,269.1 L114.4,266.9 L116.5,264.7 L118.6,262.6 L120.7,260.6 L123.0,258.7 L125.2,256.8 L127.6,255.1 L129.9,253.4 L132.4,251.7 L134.8,250.2 L137.4,248.8 L139.9,247.4 L142.5,246.1 L145.1,245.0 L147.8,243.9 L150.5,242.9 L153.2,242.0 L155.9,241.2 L158.6,240.4 L161.4,239.8 L164.2,239.3 L167.0,238.8 L169.8,238.5 L172.6,238.2 L175.4,238.0 L178.2,237.9 L181.1,237.9 L196.8,238.0 L212.7,238.0 L228.5,238.0 L244.3,238.0 L260.1,238.0 L276.0,238.0 L291.8,238.0 L307.6,238.0 L323.4,238.0 L339.3,238.0 L355.1,238.0 L370.9,238.0 L386.8,238.0 L402.6,238.0 L418.4,238.0 L434.2,238.0 L450.1,238.0 L465.9,238.0 L481.7,238.0 L497.6,238.0 L513.4,238.0 L529.2,238.0 L545.0,238.0 L560.9,238.0 L576.7,238.0 L592.5,238.0 L608.3,238.0 L624.2,238.0 L640.0,238.0Z" fill="#2f9199"/>
<path d="M560,188 L630,187 C665,184 690,168 706,139.5 L689,128.4 L757,97 L765,173 L747.4,162.7 C733,195 700,232 640,238 L560,238 Z" fill="#2f9199"/>
<path d="M657.6,208 C691,196 713,175 726.8,149.6" fill="none" stroke="#c9b65c" stroke-width="2.6" stroke-linecap="round"/>
<path d="M1496.8,72.6 C1534,62 1561,40 1573.4,14.8" fill="none" stroke="#c2b667" stroke-width="2.6" stroke-linecap="round"/>
<path d="M43.7,510.0 L67.7,531.0 L91.7,510.0" fill="none" stroke="#fefefc" stroke-width="6" stroke-linejoin="miter"/>
<path d="M240.0,862.0 L261.0,838.0 L240.0,814.0" fill="none" stroke="#fefefc" stroke-width="6" stroke-linejoin="miter"/>
<path d="M696.6,822.9 L697.0,791.0 L665.4,786.4" fill="none" stroke="#fefefc" stroke-width="6" stroke-linejoin="miter"/>
<path d="M843.2,443.3 L823.7,418.0 L796.1,433.9" fill="none" stroke="#fefefc" stroke-width="6" stroke-linejoin="miter"/>
<path d="M83.9,269.8 L83.9,269.8 L82.1,273.1 L80.4,276.4 L78.7,279.8 L77.2,283.2 L75.8,286.7 L74.5,290.2 L73.3,293.8 L72.2,297.4 L71.2,301.1 L70.3,304.7 L69.6,308.4 L69.0,312.2 L68.4,315.9 L68.0,319.7 L67.7,323.4 L67.6,327.2 L67.5,331.0 L67.5,339.9 L67.5,348.9 L67.5,357.8 L67.5,366.8 L67.5,375.7 L67.5,384.7 L67.5,393.6 L67.5,402.6 L67.5,411.5 L67.5,420.5 L67.5,429.4 L67.5,438.4 L67.5,447.3 L67.5,456.3 L67.5,465.2 L67.5,474.2 L67.5,483.1 L67.5,492.1 L67.5,501.0 L67.5,510.0 L67.5,518.9 L67.5,518.9" fill="none" stroke="#fefefc" stroke-width="2.8" stroke-linecap="round"/>
<path d="M67.5,554.7 L67.5,554.7 L67.5,563.7 L67.5,572.6 L67.5,581.6 L67.5,590.5 L67.5,599.5 L67.5,608.4 L67.5,617.4 L67.5,626.3 L67.5,635.3 L67.5,644.2 L67.5,653.2 L67.5,662.1 L67.5,671.1 L67.5,680.0 L67.5,685.5 L67.7,691.0 L67.9,696.3 L68.2,701.5 L68.6,706.6 L69.1,711.7 L69.7,716.6 L70.4,721.4 L71.2,726.1 L72.1,730.7 L73.1,735.2 L74.1,739.5 L75.3,743.8 L76.6,748.0 L77.9,752.1 L79.4,756.1 L80.9,760.0 L82.6,763.8 L84.3,767.4 L86.2,771.0 L88.1,774.5 L90.2,777.9 L92.3,781.2 L94.6,784.4 L96.9,787.5 L99.4,790.5 L101.9,793.4 L104.6,796.2 L107.3,798.9 L110.2,801.5 L113.2,804.1 L116.2,806.5 L119.4,808.8 L122.7,811.1 L126.1,813.2 L129.5,815.3 L133.1,817.3 L136.8,819.1 L140.7,820.9 L144.6,822.6 L148.6,824.2 L152.7,825.7 L157.0,827.1 L161.3,828.5 L165.8,829.7 L170.3,830.9 L175.0,831.9 L179.8,832.9 L184.7,833.8 L189.7,834.6 L194.9,835.3 L200.1,835.9 L205.5,836.5 L210.9,837.0 L216.5,837.3 L222.2,837.6 L228.0,837.8 L234.0,838.0 L234.0,838.0" fill="none" stroke="#fefefc" stroke-width="2.8" stroke-linecap="round"/>
<path d="M281.4,838.0 L281.4,838.0 L291.7,838.0 L302.1,838.0 L312.4,838.0 L322.8,838.0 L333.1,838.0 L343.4,838.0 L353.8,838.0 L364.1,838.0 L374.5,838.0 L384.8,838.0 L395.2,838.0 L405.5,838.0 L415.9,838.0 L426.2,838.0 L436.6,838.0 L446.9,838.0 L457.2,838.0 L467.6,838.0 L477.9,838.0 L488.3,838.0 L498.6,838.0 L509.0,838.0 L519.3,838.0 L529.7,838.0 L540.0,838.0 L541.8,838.0 L544.5,838.0 L547.2,838.0 L549.9,838.0 L552.7,838.0 L555.4,838.0 L558.1,838.0 L560.8,838.0 L563.5,837.9 L566.3,837.9 L569.0,837.8 L571.7,837.7 L574.4,837.6 L577.1,837.4 L579.8,837.2 L582.5,837.0 L585.2,836.8 L587.9,836.5 L590.6,836.2 L593.2,835.9 L595.9,835.5 L598.6,835.1 L601.2,834.6 L603.9,834.1 L606.5,833.6 L609.2,833.0 L611.8,832.4 L614.4,831.7 L617.0,831.0 L619.6,830.3 L622.2,829.5 L624.8,828.7 L627.4,827.9 L630.0,827.0 L632.5,826.1 L635.1,825.1 L637.6,824.1 L640.1,823.1 L642.6,822.0 L645.1,820.9 L647.6,819.7 L650.1,818.6 L652.5,817.4 L654.9,816.1 L657.4,814.9 L659.8,813.6 L662.2,812.2 L664.5,810.8 L666.9,809.4 L669.2,808.0 L671.6,806.6 L673.9,805.1 L676.2,803.5 L678.4,802.0 L680.7,800.4 L680.7,800.4" fill="none" stroke="#fefefc" stroke-width="2.8" stroke-linecap="round"/>
<path d="M708.0,777.4 L708.0,777.4 L710.0,775.4 L711.9,773.5 L713.8,771.5 L715.6,769.5 L717.5,767.4 L719.3,765.4 L721.1,763.3 L722.8,761.2 L724.5,759.1 L726.2,756.9 L727.9,754.7 L729.6,752.6 L731.2,750.4 L732.8,748.1 L734.3,745.9 L735.9,743.7 L737.4,741.4 L738.9,739.1 L740.3,736.8 L741.8,734.5 L743.2,732.1 L744.5,729.8 L745.9,727.4 L747.2,725.0 L748.5,722.6 L749.8,720.2 L751.0,717.8 L752.2,715.3 L753.4,712.9 L754.6,710.4 L755.7,707.9 L756.8,705.4 L757.9,702.9 L758.9,700.4 L760.0,697.9 L761.0,695.4 L762.0,692.8 L762.9,690.3 L763.8,687.7 L764.7,685.2 L765.6,682.6 L766.4,680.0 L767.3,677.4 L768.0,674.8 L768.8,672.2 L769.6,669.6 L770.3,667.0 L771.0,664.3 L771.7,661.7 L772.3,659.1 L773.0,656.4 L773.6,653.8 L774.3,651.2 L774.9,648.5 L775.5,645.9 L776.0,643.2 L776.6,640.5 L777.2,637.9 L777.8,635.2 L778.3,632.6 L778.9,629.9 L779.4,627.2 L780.0,624.6 L780.5,621.9 L781.1,619.2 L781.6,616.6 L782.2,613.9 L782.7,611.2 L783.3,608.6 L783.9,605.9 L784.4,603.3 L785.0,600.6 L785.6,598.0 L786.2,595.3 L786.8,592.6 L787.4,590.0 L787.9,587.3 L788.5,584.7 L789.1,582.0 L789.7,579.4 L790.4,576.8 L791.0,574.1 L791.6,571.5 L792.2,568.8 L792.8,566.2 L793.4,563.5 L794.0,560.9 L794.6,558.2 L795.3,555.6 L795.9,553.0 L796.5,550.3 L797.1,547.7 L797.8,545.0 L798.4,542.4 L799.0,539.7 L799.6,537.1 L800.3,534.5 L800.9,531.8 L801.5,529.2 L802.1,526.5 L802.8,523.9 L803.4,521.3 L804.0,518.6 L804.6,516.0 L805.2,513.3 L805.9,510.7 L806.5,508.0 L807.1,505.4 L807.7,502.7 L808.3,500.1 L808.9,497.4 L809.5,494.8 L810.1,492.1 L810.7,489.5 L811.3,486.8 L811.9,484.2 L812.5,481.5 L813.1,478.9 L813.7,476.2 L814.3,473.5 L814.9,470.9 L815.4,468.2 L816.0,465.6 L816.6,462.9 L817.2,460.2 L817.7,457.6 L818.3,454.9 L818.8,452.2 L819.4,449.6 L819.9,446.9 L820.5,444.2 L821.0,441.5 L821.6,438.9 L821.6,438.9" fill="none" stroke="#fefefc" stroke-width="2.8" stroke-linecap="round"/>
<path d="M830.1,396.0 L830.1,396.0 L830.6,393.3 L831.2,390.6 L831.7,388.0 L832.2,385.3 L832.8,382.6 L833.3,379.9 L833.9,377.2 L834.4,374.6 L835.0,371.9 L835.5,369.2 L836.1,366.6 L836.7,363.9 L837.2,361.2 L837.8,358.5 L838.4,355.9 L839.0,353.2 L839.6,350.5 L840.1,347.9 L840.7,345.2 L841.3,342.6 L842.0,339.9 L842.6,337.3 L843.2,334.6 L843.8,332.0 L844.4,329.3 L845.1,326.7 L845.7,324.0 L846.4,321.4 L847.0,318.7 L847.7,316.1 L848.4,313.5 L849.0,310.8 L849.7,308.2 L850.4,305.6 L851.1,302.9 L851.8,300.3 L852.5,297.7 L853.1,295.0 L853.7,292.4 L854.3,289.7 L854.9,287.1 L855.6,284.4 L856.2,281.8 L856.9,279.2 L857.6,276.5 L858.3,273.9 L859.0,271.3 L859.7,268.6 L860.4,266.0 L861.1,263.4 L861.9,260.8 L862.7,258.2 L863.5,255.6 L864.3,253.0 L865.1,250.4 L866.0,247.8 L866.8,245.2 L867.7,242.6 L868.6,240.0 L869.5,237.4 L870.4,234.9 L871.3,232.3 L872.3,229.7 L873.2,227.2 L874.2,224.6 L875.2,222.1 L876.2,219.5 L877.3,217.0 L878.4,214.5 L879.5,212.0 L880.7,209.6 L881.8,207.1 L883.0,204.6 L884.2,202.2 L885.5,199.7 L886.7,197.3 L888.0,194.9 L889.3,192.5 L890.6,190.1 L891.9,187.7 L893.3,185.3 L894.6,182.9 L896.0,180.6 L897.5,178.2 L898.9,175.9 L900.4,173.6 L901.8,171.3 L903.4,169.0 L904.9,166.7 L906.4,164.4 L908.0,162.2 L909.6,159.9 L911.3,157.7 L912.9,155.5 L914.6,153.3 L916.3,151.2 L918.1,149.0 L919.9,146.9 L921.6,144.8 L923.5,142.7 L925.3,140.6 L927.2,138.5 L929.1,136.5 L931.0,134.4 L933.0,132.4 L935.0,130.4 L937.0,128.5 L939.0,126.5 L941.1,124.6 L943.1,122.7 L945.3,120.9 L947.4,119.0 L949.5,117.2 L951.7,115.4 L954.0,113.7 L956.2,112.0 L958.5,110.3 L960.8,108.6 L963.1,107.0 L965.4,105.4 L967.7,103.9 L970.1,102.3 L972.5,100.8 L974.9,99.3 L977.3,97.9 L979.7,96.4 L982.1,95.0 L984.6,93.7 L987.0,92.3 L989.6,91.1 L992.1,90.0 L994.7,88.9 L997.3,87.8 L999.8,86.7 L1002.4,85.7 L1005.0,84.7 L1007.6,83.8 L1010.2,82.8 L1012.9,82.0 L1015.5,81.1 L1018.1,80.3 L1020.8,79.6 L1023.4,78.9 L1026.0,78.1 L1028.7,77.4 L1028.7,77.4" fill="none" stroke="#fefefc" stroke-width="2.6" stroke-linecap="round"/>
</g>
<g id="part_right">
<path d="M1339.9,216.1 L1341.8,215.5 L1343.8,214.9 L1345.9,214.5 L1347.9,214.1 L1350.0,213.8 L1352.1,213.6 L1354.2,213.5 L1356.3,213.6 L1358.4,213.7 L1360.4,213.9 L1362.5,214.2 L1364.5,214.7 L1366.4,215.2 L1368.3,215.9 L1370.1,216.7 L1371.8,217.7 L1373.4,218.7 L1375.0,219.9 L1376.4,221.2 L1377.8,222.6 L1379.1,224.1 L1380.3,225.7 L1381.5,227.3 L1382.7,229.0 L1383.8,230.7 L1385.0,232.5 L1386.1,234.2 L1387.2,236.0 L1388.3,237.7 L1389.5,239.4 L1390.7,241.0 L1391.9,242.6 L1393.3,244.1 L1394.6,245.5 L1396.1,246.9 L1397.6,248.1 L1399.2,249.2 L1400.8,250.3 L1402.5,251.3 L1404.2,252.2 L1406.0,253.0 L1407.8,253.8 L1409.7,254.5 L1411.6,255.0 L1413.5,255.6 L1415.5,256.0 L1417.5,256.4 L1419.5,256.7 L1421.5,256.9 L1423.5,257.1 L1425.6,257.2 L1427.7,257.3 L1429.7,257.2 L1431.8,257.2 L1433.9,257.0 L1435.9,256.8 L1438.0,256.6 L1440.0,256.3 L1442.1,255.9 L1442.0,289.9 L1439.9,290.2 L1437.7,290.4 L1435.4,290.6 L1433.2,290.7 L1431.0,290.8 L1428.7,290.8 L1426.4,290.8 L1424.2,290.8 L1421.9,290.7 L1419.6,290.5 L1417.4,290.3 L1415.1,290.0 L1412.9,289.7 L1410.6,289.3 L1408.4,288.9 L1406.2,288.4 L1404.0,287.9 L1401.8,287.3 L1399.7,286.6 L1397.6,285.9 L1395.5,285.1 L1393.4,284.2 L1391.4,283.3 L1389.5,282.3 L1387.5,281.2 L1385.7,280.1 L1383.8,278.9 L1382.1,277.6 L1380.3,276.3 L1378.7,274.9 L1377.1,273.4 L1375.5,271.8 L1374.1,270.2 L1372.6,268.4 L1371.3,266.6 L1370.0,264.8 L1368.8,262.8 L1367.6,260.9 L1366.5,258.9 L1365.4,256.8 L1364.3,254.8 L1363.1,252.8 L1362.0,250.8 L1360.8,248.9 L1359.5,247.0 L1358.2,245.2 L1356.9,243.5 L1355.4,241.8 L1353.9,240.3 L1352.2,238.9 L1350.4,237.7 L1348.5,236.6 L1346.4,235.7 L1344.3,234.8 L1342.3,233.9 L1340.3,232.9 L1338.5,231.6 L1337.0,230.2 L1335.7,228.3Z" fill="#ee7d60"/>
<path d="M1359.6,228.0 L1360.7,229.3 L1361.9,230.7 L1363.0,232.1 L1364.0,233.6 L1365.0,235.1 L1366.0,236.6 L1367.0,238.2 L1368.0,239.7 L1368.9,241.3 L1369.9,242.9 L1370.9,244.4 L1371.8,246.0 L1372.8,247.6 L1373.8,249.1 L1374.8,250.7 L1375.8,252.1 L1376.9,253.6 L1378.0,255.1 L1379.2,256.4 L1380.3,257.8 L1381.6,259.1 L1382.9,260.3 L1384.2,261.5 L1385.6,262.7 L1387.0,263.7 L1388.5,264.7 L1390.0,265.7 L1391.5,266.6 L1393.1,267.4 L1394.8,268.2 L1396.4,268.9 L1398.1,269.6 L1399.9,270.1 L1401.7,270.6 L1403.5,271.0 L1405.3,271.4 L1407.2,271.7 L1409.1,271.8 L1411.1,272.0" fill="none" stroke="#fefefc" stroke-width="2.4" stroke-linecap="round"/>
<path d="M1456.4,286.2 L1459.9,286.0 L1463.0,285.8 L1466.1,285.8 L1469.0,285.9 L1471.8,286.0 L1474.5,286.2 L1477.1,286.5 L1479.5,286.9 L1481.9,287.3 L1484.1,287.9 L1486.2,288.4 L1488.2,289.1 L1490.0,289.8 L1491.8,290.5 L1493.5,291.4 L1495.0,292.2 L1496.5,293.1 L1497.9,294.1 L1499.2,295.1 L1500.4,296.1 L1501.6,297.3 L1502.7,298.5 L1503.8,299.7 L1504.8,301.1 L1505.7,302.5 L1506.7,304.0 L1507.5,305.6 L1508.4,307.4 L1509.1,309.2 L1509.9,311.2 L1510.5,313.3 L1511.1,315.6 L1511.7,317.9 L1512.1,320.4 L1512.5,323.1 L1512.8,325.8 L1513.1,328.8 L1513.2,331.8 L1513.3,335.1 L1513.2,346.8 L1513.2,358.7 L1513.2,370.5 L1513.2,382.4 L1513.2,394.2 L1513.2,406.1 L1513.2,417.9 L1513.2,429.7 L1513.2,441.6 L1513.2,453.4 L1513.2,465.3 L1513.2,477.1 L1513.2,488.9 L1513.2,500.8 L1513.2,512.6 L1513.2,524.5 L1513.2,536.3 L1513.2,548.2 L1513.2,560.0 L1553.8,560.0 L1553.8,548.2 L1553.8,536.3 L1553.8,524.5 L1553.8,512.6 L1553.8,500.8 L1553.8,488.9 L1553.8,477.1 L1553.8,465.3 L1553.8,453.4 L1553.8,441.6 L1553.8,429.7 L1553.8,417.9 L1553.8,406.1 L1553.8,394.2 L1553.8,382.4 L1553.7,370.5 L1553.8,358.7 L1553.8,346.8 L1553.7,334.9 L1553.7,330.6 L1553.5,326.3 L1553.2,322.0 L1552.7,317.9 L1552.1,313.8 L1551.3,309.7 L1550.4,305.8 L1549.4,301.9 L1548.2,298.2 L1546.9,294.5 L1545.3,290.9 L1543.7,287.4 L1541.9,284.0 L1539.9,280.7 L1537.7,277.5 L1535.4,274.5 L1533.0,271.6 L1530.4,268.8 L1527.6,266.2 L1524.7,263.7 L1521.7,261.4 L1518.6,259.2 L1515.4,257.2 L1512.1,255.4 L1508.6,253.7 L1505.1,252.2 L1501.5,250.9 L1497.9,249.7 L1494.1,248.6 L1490.3,247.7 L1486.4,247.0 L1482.5,246.4 L1478.5,245.9 L1474.5,245.6 L1470.4,245.4 L1466.2,245.3 L1462.0,245.4 L1457.7,245.5 L1453.6,245.8Z" fill="#ee7d60"/>
<path d="M1512.3,540.0 L1512.3,548.7 L1512.3,557.3 L1512.3,566.0 L1512.3,574.7 L1512.3,583.3 L1512.3,592.0 L1512.3,600.7 L1512.3,609.3 L1512.3,617.9 L1512.3,619.8 L1512.2,621.5 L1512.0,623.1 L1511.8,624.6 L1511.5,626.0 L1511.2,627.3 L1510.9,628.6 L1510.5,629.7 L1510.0,630.8 L1509.6,631.9 L1509.1,632.8 L1508.5,633.8 L1507.9,634.7 L1507.3,635.5 L1506.6,636.3 L1505.8,637.2 L1505.0,637.9 L1504.1,638.7 L1503.2,639.5 L1502.1,640.3 L1501.0,641.0 L1499.7,641.7 L1498.4,642.4 L1496.9,643.1 L1495.4,643.8 L1493.7,644.5 L1492.0,645.1 L1490.1,645.7 L1488.1,646.2 L1486.0,646.7 L1483.7,647.2 L1481.4,647.6 L1478.9,647.9 L1476.4,648.3 L1473.7,648.5 L1471.0,648.7 L1468.1,648.9 L1465.1,649.0 L1461.8,649.0 L1462.2,690.0 L1465.9,690.0 L1469.7,689.8 L1473.5,689.6 L1477.2,689.4 L1480.9,689.0 L1484.5,688.6 L1488.0,688.0 L1491.5,687.4 L1494.9,686.7 L1498.2,685.9 L1501.5,685.0 L1504.7,684.0 L1507.9,682.9 L1511.0,681.7 L1514.0,680.4 L1516.9,679.0 L1519.8,677.5 L1522.6,675.8 L1525.3,674.1 L1527.9,672.2 L1530.5,670.1 L1532.9,668.0 L1535.2,665.7 L1537.4,663.4 L1539.5,660.9 L1541.4,658.3 L1543.2,655.6 L1544.9,652.8 L1546.4,649.9 L1547.7,646.9 L1548.9,643.9 L1550.0,640.8 L1550.9,637.7 L1551.6,634.5 L1552.2,631.3 L1552.7,628.0 L1553.0,624.7 L1553.2,621.4 L1553.3,618.1 L1553.3,609.3 L1553.3,600.7 L1553.3,592.0 L1553.3,583.3 L1553.3,574.7 L1553.3,566.0 L1553.3,557.3 L1553.3,548.7 L1553.3,540.0Z" fill="#ee7d60"/>
<path d="M1514.0,484.7 L1514.0,488.9 L1513.8,492.5 L1513.6,495.7 L1513.3,498.6 L1513.0,501.3 L1512.5,503.8 L1512.0,506.3 L1511.5,508.8 L1510.9,511.3 L1510.3,514.0 L1509.6,516.8 L1508.9,519.8 L1508.2,523.1 L1507.6,526.6 L1507.1,530.3 L1506.6,534.3 L1506.3,538.6 L1506.1,543.1 L1506.1,547.2 L1506.0,549.3 L1505.9,551.3 L1505.6,553.1 L1505.2,554.9 L1504.8,556.4 L1504.3,557.9 L1503.7,559.3 L1503.0,560.6 L1502.3,561.9 L1501.4,563.1 L1500.4,564.4 L1499.3,565.6 L1498.1,566.8 L1496.7,567.9 L1495.1,569.1 L1493.3,570.2 L1491.4,571.3 L1489.3,572.4 L1487.0,573.4 L1484.5,574.4 L1481.8,575.4 L1479.0,576.4 L1475.9,577.3 L1472.7,578.1 L1469.3,578.9 L1465.8,579.6 L1462.0,580.3 L1458.1,581.0 L1454.1,581.5 L1449.9,582.0 L1445.5,582.5 L1440.9,582.9 L1436.2,583.3 L1431.4,583.6 L1426.4,583.9 L1421.3,584.1 L1416.0,584.2 L1410.6,584.3 L1404.9,584.4 L1405.1,618.6 L1410.8,618.6 L1416.6,618.6 L1422.2,618.5 L1427.7,618.4 L1433.1,618.2 L1438.4,617.9 L1443.5,617.6 L1448.6,617.3 L1453.5,616.8 L1458.4,616.3 L1463.1,615.7 L1467.7,615.0 L1472.2,614.3 L1476.6,613.5 L1480.9,612.5 L1485.1,611.5 L1489.2,610.4 L1493.2,609.1 L1497.1,607.8 L1500.9,606.3 L1504.5,604.7 L1508.1,602.9 L1511.6,601.0 L1514.9,599.0 L1518.1,596.7 L1521.2,594.3 L1524.2,591.8 L1527.0,589.0 L1529.6,586.1 L1532.1,583.0 L1534.3,579.7 L1536.3,576.2 L1538.1,572.7 L1539.7,568.9 L1541.0,565.1 L1542.1,561.2 L1542.9,557.2 L1543.5,553.1 L1543.9,548.8 L1544.1,544.4 L1544.3,541.1 L1544.5,538.2 L1544.9,535.5 L1545.3,533.0 L1545.8,530.6 L1546.3,528.2 L1546.9,525.8 L1547.6,523.2 L1548.3,520.5 L1549.0,517.6 L1549.7,514.5 L1550.5,511.1 L1551.1,507.5 L1551.7,503.6 L1552.2,499.4 L1552.6,494.9 L1552.9,490.1 L1553.0,485.3Z" fill="#ee7d60"/>
<path d="M1497,276 C1520,282 1533.5,300 1533.5,335 L1533.3,472" fill="none" stroke="#fefefc" stroke-width="2.6" stroke-linecap="round"/>
<path d="M1512.5,470.8 L1533.2,488.7 L1554.5,469.8" fill="none" stroke="#fefefc" stroke-width="4.5"/>
<path d="M1533,503 C1530,515 1525.5,525 1525,548 C1523,590 1480,601.5 1428,601.5" fill="none" stroke="#fefefc" stroke-width="2.4" stroke-linecap="round"/>
<path d="M1534.5,503 L1533.5,618 C1533.5,650 1510,664 1487,667" fill="none" stroke="#fefefc" stroke-width="2.4" stroke-linecap="round"/>
<circle cx="1487" cy="667" r="5" fill="#fefefc"/>
<path d="M1298.5,209.0 L1300.4,207.5 L1302.5,206.3 L1304.6,205.3 L1306.8,204.3 L1309.1,203.6 L1311.5,202.9 L1313.9,202.4 L1316.3,201.9 L1318.8,201.4 L1321.3,201.0 L1323.8,200.7 L1326.2,200.3 L1328.7,199.8 L1331.2,199.4 L1333.6,198.9 L1336.0,198.3 L1338.3,197.5 L1340.5,196.7 L1342.7,195.8 L1344.8,194.7 L1346.8,193.5 L1348.7,192.1 L1350.5,190.7 L1352.2,189.1 L1353.8,187.4 L1355.3,185.5 L1356.7,183.6 L1358.1,181.6 L1359.4,179.5 L1360.7,177.4 L1362.0,175.3 L1363.3,173.1 L1364.7,171.1 L1366.1,169.0 L1367.5,167.0 L1369.0,165.0 L1370.5,163.1 L1372.1,161.2 L1373.8,159.5 L1375.4,157.8 L1377.2,156.1 L1379.0,154.6 L1380.8,153.1 L1382.8,151.8 L1384.7,150.5 L1386.8,149.4 L1388.9,148.4 L1391.0,147.5 L1393.2,146.7 L1395.5,146.1 L1397.9,145.6 L1400.3,145.2 L1402.8,144.9 L1405.3,144.8 L1407.8,144.7 L1410.4,144.7 L1413.0,144.8 L1415.5,144.9 L1418.1,145.1 L1420.7,145.2 L1423.3,145.4 L1425.8,145.5 L1428.3,145.7 L1430.8,145.7 L1433.1,145.8 L1435.5,145.7 L1437.7,145.6 L1439.9,145.4 L1442.0,145.0 L1442.0,177.6 L1439.6,177.6 L1437.1,177.6 L1434.4,177.5 L1431.6,177.4 L1428.7,177.3 L1425.7,177.3 L1422.7,177.3 L1419.7,177.4 L1416.7,177.6 L1413.8,177.9 L1410.9,178.4 L1408.1,179.1 L1405.4,180.0 L1402.9,181.1 L1400.5,182.5 L1398.3,184.0 L1396.2,185.8 L1394.4,187.8 L1392.7,190.0 L1391.2,192.3 L1389.8,194.7 L1388.4,197.2 L1387.1,199.8 L1385.8,202.4 L1384.4,204.9 L1382.9,207.4 L1381.3,209.8 L1379.6,212.1 L1377.8,214.2 L1375.8,216.2 L1373.7,218.0 L1371.4,219.6 L1369.1,221.0 L1366.6,222.2 L1364.0,223.2 L1361.3,224.1 L1358.6,224.7 L1355.8,225.2 L1352.9,225.5 L1350.1,225.6 L1347.2,225.6 L1344.3,225.4 L1341.4,225.2 L1338.5,225.0 L1335.6,224.8 L1332.7,224.6 L1329.9,224.5 L1327.1,224.5 L1324.4,224.7 L1321.7,225.1 L1319.1,225.8 L1316.6,226.7 L1314.2,227.9 L1311.9,229.4 L1309.7,231.2 L1307.7,233.3 L1305.8,235.5 L1304.1,237.9 L1302.6,240.4 L1301.3,243.1 L1300.2,245.8 L1299.4,248.5 L1298.7,251.4 L1298.2,254.2 L1298.0,257.0 L1298.0,259.9 L1298.2,262.6 L1298.6,265.4 L1299.3,268.0 L1284.0,268.0 L1284.0,225.0Z" fill="#2f8d99"/>
<path d="M1298.5,212 L1298.5,179.3 L1308.8,179.3 L1289.2,146.8 L1269.5,179.3 L1279.6,179.3 L1279.6,240" fill="#2f8d99" stroke="#1f4a5e" stroke-width="1.4" stroke-linejoin="round"/>
<path d="M1281,236 C1285,224 1296,214 1318,206" fill="none" stroke="#1f6a78" stroke-width="1.5"/>
<path d="M1297,250 C1299,238 1306,228 1318,224 C1330,220 1340,222 1352,222" fill="none" stroke="#1f6a78" stroke-width="1.3"/>
<path d="M1329.9,216.7 L1332.2,216.6 L1334.4,216.5 L1336.6,216.2 L1338.7,215.8 L1340.8,215.4 L1342.9,214.8 L1344.9,214.1 L1346.8,213.3 L1348.7,212.4 L1350.6,211.4 L1352.4,210.4 L1354.1,209.2 L1355.8,208.0 L1357.4,206.7 L1358.9,205.3 L1360.4,203.9 L1361.8,202.3 L1363.2,200.7 L1364.5,199.1 L1365.7,197.4 L1366.9,195.6 L1368.0,193.9 L1369.2,192.0 L1370.3,190.2 L1371.4,188.4 L1372.5,186.6 L1373.6,184.7 L1374.8,182.9 L1375.9,181.2 L1377.2,179.4 L1378.4,177.7 L1379.7,176.0 L1381.1,174.4 L1382.5,172.9 L1384.0,171.4 L1385.5,170.0 L1387.1,168.7 L1388.8,167.5 L1390.5,166.4 L1392.3,165.3 L1394.2,164.4 L1396.1,163.5 L1398.1,162.8 L1400.1,162.2 L1402.2,161.7 L1404.3,161.3 L1406.5,161.1 L1408.8,161.0 L1411.0,161.0" fill="none" stroke="#fefefc" stroke-width="2.4" stroke-linecap="round"/>
<path d="M1278.8,292.5 L1278.8,262 C1278.8,240 1270,228 1250,228 L1245.6,228 L1245.6,237.4 L1214.8,218.7 L1245.6,199 L1245.6,208.4 L1252,208.4 C1282,208.4 1299.3,226 1299.3,256 L1299.3,292.5 Z" fill="#c8a03c" stroke="#1f4a5e" stroke-width="1.4" stroke-linejoin="round"/>
<circle cx="1453.2" cy="160.2" r="37.6" fill="#daeef0" stroke="#2f8d99" stroke-width="5"/>
<clipPath id="avc1"><circle cx="0" cy="0" r="35.3"/></clipPath>
<g transform="translate(1453.2,160.2)"><g clip-path="url(#avc1)" stroke="#1f4a5e" stroke-width="1.3" stroke-linejoin="round">
<path d="M-29,40 C-29,22 -24,17 -9,11.5 L9,11.5 C24,17 29,22 29,40 Z" fill="#2c6f8e"/>
<path d="M-9,10 L0,33 L9,10 Z" fill="#fafcfb"/>
<path d="M-2.6,14 L2.6,14 L3.8,30 L0,36 L-3.8,30 Z" fill="#e2563f" stroke-width="0.9"/>
<path d="M-9,10 L-15,17 L-4,36 M9,10 L15,17 L4,36" fill="none"/>
<path d="M-5,1 L-5,10 L0,15 L5,10 L5,1 Z" fill="#f3b98c"/>
<path d="M-11.5,-13 C-11.5,0 -6,6 0,6 C6,6 11.5,0 11.5,-13 C11.5,-22 -11.5,-22 -11.5,-13 Z" fill="#f6c49c"/>
<path d="M-12.5,-9 C-15,-25 -6,-29.5 2,-29 C11,-29 15,-22 12.5,-9 C11.5,-14 10,-18 6,-18.5 C0,-17.5 -6,-18.5 -10,-16.5 C-11.5,-15 -12,-12 -12.5,-9 Z" fill="#c79a3b"/>
</g></g>
<circle cx="1453.2" cy="273.6" r="37.5" fill="#daeef0" stroke="#ee7d60" stroke-width="5.7"/>
<clipPath id="avc2"><circle cx="0" cy="0" r="34.8"/></clipPath>
<g transform="translate(1453.2,273.6)"><g clip-path="url(#avc2)" stroke="#1f4a5e" stroke-width="1.3" stroke-linejoin="round">
<path d="M-16,-9 C-18,-27 -7,-29.5 -1,-29.5 C6,-29.5 16,-27 15,-9 L16,4 C12,8 6,8 4,7 L-5,7 C-7,8 -13,8 -17.5,4 Z" fill="#2b5f76"/>
<path d="M-27,40 C-27,21 -21,16 -9,11.5 L8,11.5 C20,16 25,21 25,40 Z" fill="#4aa5c2"/>
<path d="M-8,9 L-0.5,32 L7,9 Z" fill="#f3b98c"/>
<path d="M-8,9 L-14,15 L-6,22 L-0.5,32 M7,9 L13,15 L5,22 L-0.5,32" fill="#fafcfb"/>
<path d="M-4.5,0 L-4.5,10 L-0.5,14 L3.5,10 L3.5,0 Z" fill="#f3b98c" stroke="none"/>
<path d="M-10,-8 C-10,1 -5.5,5.5 -0.5,5.5 C4.5,5.5 9.5,1 9.5,-8 C9.5,-13 5,-15 3,-17.5 C0,-14 -6,-12 -10,-11 Z" fill="#f6c49c"/>
<line x1="10" y1="27" x2="14" y2="27" stroke-width="1.2"/>
</g></g>
<path d="M1403.0,585.0 L1378.4,585.0 L1353.7,585.0 L1329.1,585.0 L1304.5,585.0 L1279.8,585.0 L1255.2,585.0 L1230.6,585.0 L1205.9,585.0 L1181.3,585.0 L1156.7,585.0 L1132.1,585.0 L1107.4,585.0 L1082.8,585.0 L1058.2,585.0 L1033.5,585.0 L1008.9,585.0 L984.3,585.0 L959.6,585.0 L934.9,585.0 L930.8,585.1 L926.6,585.6 L922.5,586.5 L918.4,587.7 L914.5,589.2 L910.7,591.1 L907.1,593.3 L903.6,595.7 L900.4,598.4 L897.4,601.4 L894.7,604.6 L892.3,608.1 L890.1,611.7 L888.2,615.5 L886.7,619.4 L885.5,623.5 L884.6,627.6 L884.1,631.8 L884.0,635.8 L884.0,644.6 L884.0,653.3 L884.0,661.9 L884.0,670.5 L884.0,679.2 L884.0,687.8 L884.0,696.4 L884.0,705.1 L884.0,713.7 L884.0,722.3 L884.0,730.9 L884.0,739.6 L884.0,748.2 L884.0,756.8 L884.0,765.5 L884.0,774.1 L884.0,782.7 L884.0,791.4 L884.0,800.1 L884.1,804.0 L884.5,807.9 L885.2,811.8 L886.1,815.7 L887.3,819.4 L888.8,823.1 L890.5,826.7 L892.4,830.2 L894.6,833.5 L897.0,836.6 L899.6,839.6 L902.4,842.4 L905.4,845.0 L908.5,847.4 L911.8,849.6 L915.3,851.5 L918.9,853.2 L922.6,854.7 L926.3,855.9 L930.2,856.8 L934.1,857.5 L938.0,857.9 L941.9,858.0 L964.7,858.0 L987.4,858.0 L1010.1,858.0 L1032.8,858.0 L1055.4,858.0 L1078.1,858.0 L1100.8,858.0 L1123.5,858.0 L1146.2,858.0 L1168.9,858.0 L1191.6,858.0 L1214.3,858.0 L1237.0,858.0 L1259.7,858.0 L1282.3,858.0 L1305.0,858.0 L1327.7,858.0 L1350.4,858.0 L1373.1,858.0 L1395.8,858.0 L1418.5,858.0 L1441.2,858.0 L1463.9,858.0 L1486.6,858.0 L1509.2,858.0 L1531.9,858.0 L1554.6,858.0 L1577.3,858.0 L1600.0,858.0 L1600.0,823.5 L1577.3,823.5 L1554.6,823.5 L1531.9,823.5 L1509.2,823.5 L1486.6,823.5 L1463.9,823.5 L1441.2,823.5 L1418.5,823.5 L1395.8,823.5 L1373.1,823.5 L1350.4,823.5 L1327.7,823.5 L1305.0,823.5 L1282.3,823.5 L1259.7,823.5 L1237.0,823.5 L1214.3,823.5 L1191.6,823.5 L1168.9,823.5 L1146.2,823.5 L1123.5,823.5 L1100.8,823.5 L1078.1,823.5 L1055.4,823.5 L1032.8,823.5 L1010.1,823.5 L987.4,823.5 L964.7,823.5 L942.1,823.6 L940.4,823.5 L938.8,823.3 L937.2,823.1 L935.6,822.7 L934.1,822.2 L932.6,821.6 L931.2,820.9 L929.8,820.1 L928.4,819.2 L927.1,818.3 L925.9,817.2 L924.8,816.1 L923.7,814.9 L922.8,813.6 L921.9,812.2 L921.1,810.8 L920.4,809.4 L919.8,807.9 L919.3,806.4 L918.9,804.8 L918.7,803.2 L918.5,801.6 L918.4,799.9 L918.5,791.4 L918.5,782.7 L918.5,774.1 L918.5,765.5 L918.5,756.8 L918.5,748.2 L918.5,739.6 L918.5,730.9 L918.5,722.3 L918.5,713.7 L918.5,705.1 L918.5,696.4 L918.5,687.8 L918.5,679.2 L918.5,670.5 L918.5,661.9 L918.5,653.3 L918.5,644.6 L918.4,636.2 L918.5,634.6 L918.7,633.3 L919.0,631.9 L919.3,630.6 L919.8,629.4 L920.4,628.1 L921.1,626.9 L921.9,625.8 L922.8,624.8 L923.8,623.8 L924.8,622.9 L925.9,622.1 L927.1,621.4 L928.4,620.8 L929.6,620.3 L930.9,620.0 L932.3,619.7 L933.6,619.5 L935.1,619.4 L959.6,619.5 L984.3,619.5 L1008.9,619.5 L1033.5,619.5 L1058.2,619.5 L1082.8,619.5 L1107.4,619.5 L1132.1,619.5 L1156.7,619.5 L1181.3,619.5 L1205.9,619.5 L1230.6,619.5 L1255.2,619.5 L1279.8,619.5 L1304.5,619.5 L1329.1,619.5 L1353.7,619.5 L1378.4,619.5 L1403.0,619.5Z" fill="#25616f"/>
<path d="M1403,584.5 L1420.5,602 L1403,620 Z" fill="#25616f"/>
<path d="M1600,823.5 L1186,823.5 L1169,841 L1186,858 L1600,858 Z" fill="#2f8d99"/>
<path d="M1188,822 L1170.5,841 L1188,859.5" fill="none" stroke="#fefefc" stroke-width="4"/>
<path d="M1398,602.2 L935,602.2 A33.8,33.8 0 0 0 901.2,636 L901.2,800 A40.8,40.8 0 0 0 942,840.8 L1158,840.8" fill="none" stroke="#fefefc" stroke-width="2.6" stroke-linecap="round"/>
<path d="M1202,840.8 L1600,840.8" fill="none" stroke="#fefefc" stroke-width="2.6" stroke-linecap="round"/>
<rect x="925" y="643" width="245" height="51.5" rx="4" fill="#25616f"/>
<rect x="1190.8" y="643" width="225" height="51.5" rx="4" fill="#2f8d99"/>
<text x="968" y="664" font-size="19.5" font-weight="bold" fill="#eef7f6" text-anchor="start" textLength="112" lengthAdjust="spacingAndGlyphs">Managers &amp;</text>
<text x="968" y="686.3" font-size="19.5" font-weight="bold" fill="#eef7f6" text-anchor="start" textLength="102" lengthAdjust="spacingAndGlyphs">Executives</text>
<text x="1204" y="675.3" font-size="19.5" font-weight="bold" fill="#eef7f6" text-anchor="start" textLength="126" lengthAdjust="spacingAndGlyphs">Support Staff</text>
<line x1="1180" y1="643" x2="1180" y2="804" stroke="#3a95a3" stroke-width="1.3" stroke-dasharray="4.5,3.5"/>
<circle cx="952" cy="720.3" r="4.6" fill="#23677a"/>
<text x="968" y="726.3" font-size="17.5" font-weight="normal" fill="#222" text-anchor="start" textLength="151" lengthAdjust="spacingAndGlyphs" stroke="#222" stroke-width="0.3">Meeting dynamics</text>
<circle cx="952" cy="750.3" r="4.6" fill="#23677a"/>
<text x="968" y="756.3" font-size="17.5" font-weight="normal" fill="#222" text-anchor="start" textLength="134.5" lengthAdjust="spacingAndGlyphs" stroke="#222" stroke-width="0.3">Proposal writing</text>
<circle cx="952" cy="780.3" r="4.6" fill="#23677a"/>
<text x="968" y="786.3" font-size="17.5" font-weight="normal" fill="#222" text-anchor="start" textLength="141.5" lengthAdjust="spacingAndGlyphs" stroke="#222" stroke-width="0.3">Executive speech</text>
<text x="968" y="807.5" font-size="17.5" font-weight="normal" fill="#222" text-anchor="start" textLength="75" lengthAdjust="spacingAndGlyphs" stroke="#222" stroke-width="0.3">etiquette</text>
<circle cx="1207.6" cy="720.3" r="4.6" fill="#2f97a3"/>
<text x="1222.7" y="726.3" font-size="17.5" font-weight="normal" fill="#222" text-anchor="start" textLength="130" lengthAdjust="spacingAndGlyphs" stroke="#222" stroke-width="0.3">Telephone skills</text>
<circle cx="1207.6" cy="750.3" r="4.6" fill="#2f97a3"/>
<text x="1222.7" y="756.3" font-size="17.5" font-weight="normal" fill="#222" text-anchor="start" textLength="125.5" lengthAdjust="spacingAndGlyphs" stroke="#222" stroke-width="0.3">Active listening</text>
<circle cx="1207.6" cy="780.3" r="4.6" fill="#2f97a3"/>
<text x="1222.7" y="786.3" font-size="17.5" font-weight="normal" fill="#222" text-anchor="start" textLength="206" lengthAdjust="spacingAndGlyphs" stroke="#222" stroke-width="0.3">Mastering emails/memos</text>
<circle cx="908.6" cy="668.7" r="37.5" fill="#daeef0" stroke="#25616f" stroke-width="5"/>
<clipPath id="avc3"><circle cx="0" cy="0" r="35.2"/></clipPath>
<g transform="translate(908.6,668.7)"><g clip-path="url(#avc3)" stroke="#1f4a5e" stroke-width="1.3" stroke-linejoin="round">
<path d="M-29,40 C-29,22 -24,17 -9,11.5 L9,11.5 C24,17 29,22 29,40 Z" fill="#2c6f8e"/>
<path d="M-9,10 L0,33 L9,10 Z" fill="#fafcfb"/>
<path d="M-2.6,14 L2.6,14 L3.8,30 L0,36 L-3.8,30 Z" fill="#e2563f" stroke-width="0.9"/>
<path d="M-9,10 L-15,17 L-4,36 M9,10 L15,17 L4,36" fill="none"/>
<path d="M-5,1 L-5,10 L0,15 L5,10 L5,1 Z" fill="#f3b98c"/>
<path d="M-11.5,-13 C-11.5,0 -6,6 0,6 C6,6 11.5,0 11.5,-13 C11.5,-22 -11.5,-22 -11.5,-13 Z" fill="#f6c49c"/>
<path d="M-12.5,-9 C-15,-25 -6,-29.5 2,-29 C11,-29 15,-22 12.5,-9 C11.5,-14 10,-18 6,-18.5 C0,-17.5 -6,-18.5 -10,-16.5 C-11.5,-15 -12,-12 -12.5,-9 Z" fill="#c79a3b"/>
</g></g>
<circle cx="1430.4" cy="669" r="36.5" fill="#daeef0" stroke="#ee7d60" stroke-width="6"/>
<clipPath id="avc4"><circle cx="0" cy="0" r="33.7"/></clipPath>
<g transform="translate(1430.4,669)"><g clip-path="url(#avc4)" stroke="#1f4a5e" stroke-width="1.3" stroke-linejoin="round">
<path d="M-16,-9 C-18,-27 -7,-29.5 -1,-29.5 C6,-29.5 16,-27 15,-9 L16,4 C12,8 6,8 4,7 L-5,7 C-7,8 -13,8 -17.5,4 Z" fill="#2b5f76"/>
<path d="M-27,40 C-27,21 -21,16 -9,11.5 L8,11.5 C20,16 25,21 25,40 Z" fill="#4aa5c2"/>
<path d="M-8,9 L-0.5,32 L7,9 Z" fill="#f3b98c"/>
<path d="M-8,9 L-14,15 L-6,22 L-0.5,32 M7,9 L13,15 L5,22 L-0.5,32" fill="#fafcfb"/>
<path d="M-4.5,0 L-4.5,10 L-0.5,14 L3.5,10 L3.5,0 Z" fill="#f3b98c" stroke="none"/>
<path d="M-10,-8 C-10,1 -5.5,5.5 -0.5,5.5 C4.5,5.5 9.5,1 9.5,-8 C9.5,-13 5,-15 3,-17.5 C0,-14 -6,-12 -10,-11 Z" fill="#f6c49c"/>
<line x1="10" y1="27" x2="14" y2="27" stroke-width="1.2"/>
</g></g>
</g>
<g id="part_text">
<text x="52.5" y="76" font-size="40" font-weight="bold" fill="#1c4a5e" text-anchor="start" textLength="647" lengthAdjust="spacingAndGlyphs">Professional English Mastery:</text>
<text x="52.5" y="126.3" font-size="40" font-weight="bold" fill="#1c4a5e" text-anchor="start" textLength="596.5" lengthAdjust="spacingAndGlyphs">Elevate Your Career Impact</text>
<text x="225.6" y="221.4" font-size="26.5" font-weight="bold" fill="#eef7f6" text-anchor="start" textLength="413" lengthAdjust="spacingAndGlyphs">The Power of English @ Work</text>
<text x="1051" y="83" font-size="26.5" font-weight="bold" fill="#eef7f6" text-anchor="start" textLength="422" lengthAdjust="spacingAndGlyphs">Tailored 8-Day Training Tracks</text>
<text x="111" y="495" font-size="24" font-weight="bold" fill="#1b1b1b" text-anchor="start" textLength="295" lengthAdjust="spacingAndGlyphs">Communication Defines</text>
<text x="111" y="522.6" font-size="24" font-weight="bold" fill="#1b1b1b" text-anchor="start" textLength="232" lengthAdjust="spacingAndGlyphs">Professional Image</text>
<text x="110.4" y="548.6" font-size="14.5" font-weight="normal" fill="#222" text-anchor="start" textLength="281.2" lengthAdjust="spacingAndGlyphs" stroke="#222" stroke-width="0.35">Strong language skills build confidence</text>
<text x="110.4" y="566" font-size="14.5" font-weight="normal" fill="#222" text-anchor="start" textLength="296.6" lengthAdjust="spacingAndGlyphs" stroke="#222" stroke-width="0.35">and ensure staff understand their specific</text>
<text x="110.4" y="583.4" font-size="14.5" font-weight="normal" fill="#222" text-anchor="start" textLength="163.6" lengthAdjust="spacingAndGlyphs" stroke="#222" stroke-width="0.35">roles and expectations.</text>
<text x="584" y="292.8" font-size="23.5" font-weight="bold" fill="#1b1b1b" text-anchor="middle" textLength="156.2" lengthAdjust="spacingAndGlyphs">Key Pillars of</text>
<text x="584.4" y="321" font-size="23.5" font-weight="bold" fill="#1b1b1b" text-anchor="middle" textLength="233.3" lengthAdjust="spacingAndGlyphs">Workplace Success</text>
<text x="416" y="679" font-size="23.5" font-weight="bold" fill="#1b1b1b" text-anchor="start" textLength="144.3" lengthAdjust="spacingAndGlyphs">Accelerated</text>
<text x="416.5" y="706.6" font-size="23.5" font-weight="bold" fill="#1b1b1b" text-anchor="start" textLength="231" lengthAdjust="spacingAndGlyphs">Learning Approach</text>
<text x="416" y="738.8" font-size="14.5" font-weight="normal" fill="#222" text-anchor="start" textLength="250.3" lengthAdjust="spacingAndGlyphs" stroke="#222" stroke-width="0.35">Training uses interactive role-plays,</text>
<text x="416" y="755.7" font-size="14.5" font-weight="normal" fill="#222" text-anchor="start" textLength="261.5" lengthAdjust="spacingAndGlyphs" stroke="#222" stroke-width="0.35">simulations, and group games rather</text>
<text x="416" y="773.1" font-size="14.5" font-weight="normal" fill="#222" text-anchor="start" textLength="151.8" lengthAdjust="spacingAndGlyphs" stroke="#222" stroke-width="0.35">than passive lectures.</text>
<text x="1202" y="194.7" font-size="23.5" font-weight="bold" fill="#1b1b1b" text-anchor="end" textLength="149" lengthAdjust="spacingAndGlyphs">Targeted for</text>
<text x="1202" y="222" font-size="23.5" font-weight="bold" fill="#1b1b1b" text-anchor="end" textLength="169.5" lengthAdjust="spacingAndGlyphs">Specific Roles</text>
<text x="1202" y="254.5" font-size="14.8" font-weight="normal" fill="#222" text-anchor="end" textLength="235" lengthAdjust="spacingAndGlyphs" stroke="#222" stroke-width="0.35">Specialized modules cater to the</text>
<text x="1202" y="272" font-size="14.8" font-weight="normal" fill="#222" text-anchor="end" textLength="257" lengthAdjust="spacingAndGlyphs" stroke="#222" stroke-width="0.35">unique needs of Managers, Support</text>
<text x="1202" y="289.5" font-size="14.8" font-weight="normal" fill="#222" text-anchor="end" textLength="220" lengthAdjust="spacingAndGlyphs" stroke="#222" stroke-width="0.35">Staff, and Technical Personnel.</text>
</g>
<g id="part_brain">
<line x1="48.6" y1="197.6" x2="60" y2="203.3" stroke="#c9a84a" stroke-width="2.6" stroke-linecap="round"/>
<line x1="61" y1="177" x2="71" y2="187.5" stroke="#c9a84a" stroke-width="2.6" stroke-linecap="round"/>
<line x1="83.4" y1="166.8" x2="88.5" y2="178.6" stroke="#c9a84a" stroke-width="2.6" stroke-linecap="round"/>
<line x1="107.6" y1="160.5" x2="107.6" y2="174.7" stroke="#c9a84a" stroke-width="2.6" stroke-linecap="round"/>
<line x1="131" y1="166.8" x2="126" y2="178.6" stroke="#c9a84a" stroke-width="2.6" stroke-linecap="round"/>
<line x1="152.7" y1="177" x2="143.8" y2="186" stroke="#c9a84a" stroke-width="2.6" stroke-linecap="round"/>
<g stroke="#1f3f5c" stroke-width="2" stroke-linejoin="round" stroke-linecap="round">
<path d="M96,246 C93,252 93,258 95,264 L100,262 C101,255 104,250 110,246 Z" fill="#ec7d6b"/>
<path d="M78,236 C80,246 92,251 104,248 C112,246 118,241 120,235 C112,232 90,230 78,236 Z" fill="#ef8c7b"/>
<path d="M66,228 C60,222 62,212 68,208 C66,198 74,190 84,192 C90,185 102,184 110,188 C120,183 134,187 138,196 C148,198 154,208 151,218 C154,228 148,238 138,240 C130,246 120,245 114,240 C104,243 94,240 88,236 C80,240 70,236 66,228 Z" fill="#f4a99c"/>
<g fill="none" stroke-width="1.6">
<path d="M84,192 C82,198 84,203 89,205"/>
<path d="M110,188 C104,192 102,198 104,203"/>
<path d="M138,196 C131,196 126,200 125,206"/>
<path d="M68,208 C74,207 79,210 80,215"/>
<path d="M88,236 C86,228 90,222 98,222 C106,222 112,226 120,224 C128,222 134,226 138,232"/>
<path d="M96,212 C102,208 110,210 114,216 C120,212 128,214 130,220"/>
<path d="M151,218 C146,218 142,221 141,226"/>
<path d="M72,226 C76,224 80,226 82,230"/>
<path d="M114,240 C112,236 114,232 118,230"/>
</g></g>
<path d="M92,196 C98,192 104,193 106,196 M120,194 C126,192 131,195 132,198 M76,214 C76,210 79,208 82,209" fill="none" stroke="#fbd0c6" stroke-width="2.4" stroke-linecap="round"/>
<path d="M168.5,175 L208.5,175 Q214,175 214,180.5 L214,210 Q214,215.5 208.5,215.5 L186,215.5 L173.5,226 L174.5,215.5 L168.5,215.5 Q163,215.5 163,210 L163,180.5 Q163,175 168.5,175 Z" fill="#e3f2f4" stroke="#1f3f5c" stroke-width="2" stroke-linejoin="round"/>
<path d="M172,206 L183,195.5 L189.5,201.5 L203,186" fill="none" stroke="#2f93a0" stroke-width="2.4" stroke-linejoin="miter"/>
<path d="M205.5,183 L196.5,185 L203.8,191.5 Z" fill="#2f93a0"/>
</g>
<g id="part_team">
<path d="M115,459 C110,440 112,420 114,405 C116,385 120,372 128,345 C135,320 150,304 175,298 C195,293 205,296 215,288 C225,275 240,268 258,268.5 C280,269 290,282 305,286 C325,291 345,292 357,307 C368,322 366,340 370,358 C374,380 380,395 381,420 C381.5,438 379,450 376,459 Z" fill="#d3eaee"/>
<g>
<path d="M127,451 L137,449 L137,458.5 L134.5,458.5 L134.5,454 L128,458.5 L121,458.5 Z" fill="#1d4258"/>
<path d="M156,452 L162,452 L164,458.5 L155.5,458.5 Z" fill="#1d4258"/>
<path d="M131.5,449 L137.5,449 L136,452 L130,453 Z M157.5,449 L161.5,449 L162,453 L157,453 Z" fill="#a8683c"/>
<path d="M139,374 L166,374 C169,395 166,420 162,450 L157,450 L154,400 L150,392 L138,450 L131.5,450 C134,420 137,395 139,374 Z" fill="#2a4b85"/>
<rect x="145" y="335" width="13" height="41" fill="#f7fbfa"/>
<path d="M148.5,329 L155,329 L156,338 L151,342 L147,337 Z" fill="#a8683c"/>
<path d="M146,336 C140,338 138,342 138,350 L136.5,391 L145,389 L147.5,350 Z" fill="#ec7965"/>
<path d="M156,335 C166,337 172,342 174,352 L179,361 L170,372 L169,392 L157,390 Z" fill="#ec7965"/>
<path d="M165,352 L171,361 L166,368" fill="none" stroke="#d4614f" stroke-width="1"/>
<path d="M140,340 L133,364 L124.5,352 L127.5,349 L134,356 L138,344 Z" fill="#ec7965"/>
<path d="M123.5,347 L127.5,347.5 L127.8,352 L124.5,352.5 Z" fill="#a8683c"/>
<path d="M118,341.5 L125,341 L124.5,349.5 L119.5,349.5 Z" fill="#7d5863"/><rect x="117.5" y="340.5" width="8" height="1.8" fill="#f3f3f0"/>
<circle cx="160.7" cy="313.3" r="4" fill="#275f78"/>
<path d="M146,318 C147,312 156,310 160,315 C163,320 161,328 157,331 L154,333 L150,331 L150,326 L146.5,326 L145.5,322 Z" fill="#a8683c"/>
<path d="M146,318 C147,310 158,309 161,315 C164,321 161,328 157,330 C157,324 155,320 151,318.5 Z" fill="#275f78"/>
</g>
<g>
<path d="M187,453 L194,453 L194.5,458.5 L184,458.5 Z M197,453 L204,453 L207,458.5 L196.5,458.5 Z" fill="#1d4258"/>
<path d="M186.5,408 L195,408 L194,454 L188,454 Z M196.5,408 L205,408 L203.5,454 L197.5,454 Z" fill="#a8683c"/>
<circle cx="196" cy="310.5" r="14.3" fill="#1f4f68"/>
<path d="M192,322 L200,322 L200,333 L192,333 Z" fill="#a8683c"/>
<ellipse cx="196" cy="315.5" rx="6.2" ry="8.8" fill="#a8683c"/>
<path d="M190,329 C182,331 179,335 178.5,343 L178,356 C178,362 181,364 186,364 L181,385 C181,395 182,402 184,410 L208.5,410 C211,400 212,392 211,385 L206,364 C210,364 213,361 212.5,356 L212,343 C211.5,335 209,331 202,329 L196,345 Z" fill="#2f8490"/>
<path d="M190,329 L196,345 L202,329 L199.5,328 L196,338 L192.5,328 Z" fill="#f7fbfa"/>
<rect x="190" y="339" width="17" height="21" rx="1" fill="#e5604e"/>
<path d="M179,352 C185,356 198,357 207,352 L207,358 C198,363 185,362 179,358 Z" fill="#2f8490"/>
<rect x="190.5" y="358.5" width="14" height="2.6" fill="#ef8a73"/>
<circle cx="183.5" cy="350" r="1.3" fill="#f7fbfa"/>
</g>
<g>
<path d="M224,454 L236,454 L236,459.5 L222,459.5 Z M252,454 L263,454 L265,459.5 L251,459.5 Z" fill="#1d4258"/>
<path d="M226.5,377 L261.5,377 L262.5,455 L251,455 L245,395 L243,395 L236,455 L225,455 Z" fill="#1e4f68"/>
<path d="M236,288 C238,284 250,284 251.5,289 L252,300 C252,308 248,313 244,313 C240,313 235.5,308 235.5,300 Z" fill="#a8683c"/>
<path d="M235.5,294 C234,285 240,283.5 244,283.5 C249,283.5 253,286 252,294 C250,290 248,289 244,289 C240,289 237,290 235.5,294 Z" fill="#1d4258"/>
<rect x="240" y="309" width="8" height="10" fill="#a8683c"/>
<path d="M237,316 C228,318 222,321 221,330 L220,350 L225,379 L262.5,379 L267,350 L267.5,330 C267,321 260,318 251,316 L244,340 Z" fill="#275f78"/>
<path d="M238.5,316 L244,341 L249.5,316 L247,315 L244,318 L241,315 Z" fill="#f7fbfa"/>
<path d="M242.3,318 L245.7,318 L246.8,335 L244,341 L241.2,335 Z" fill="#e5604e"/>
<path d="M221,338 C230,346 255,350 267,343 L266.5,351 C252,357 232,356 221.5,349 Z" fill="#2d6a84"/>
<path d="M267,338 C258,346 233,350 221,343 L221.5,351 C236,357 256,356 266.5,349 Z" fill="#275f78" opacity="0.55"/>
<path d="M228,344 L234,342 L235,345 L229,347 Z M254,343 L259,344.5 L258,347 L253,346 Z" fill="#a8683c"/>
</g>
<g>
<path d="M277,454 L288,454 L288,459.5 L275,459.5 Z M303,454 L313,454 L316,459.5 L302,459.5 Z" fill="#1d4258"/>
<path d="M279,368 L315.5,368 L314,455 L303,455 L297,392 L295,392 L289,455 L278.5,455 Z" fill="#3a97a3"/>
<path d="M288.5,298 C290,294 301,294 302.5,298 L303,309 C303,316 299,320.5 295.5,320.5 C292,320.5 288,316 288,309 Z" fill="#f5bd9a"/>
<path d="M288,303 C286.5,294 291,292.5 295.5,292.5 C300,292.5 304.5,294 303,303 C301,299 299,298 295.5,298 C292,298 290,299 288,303 Z" fill="#e8ba6c"/>
<path d="M288.3,309 C291,311 300,311 302.7,309 C303,316 299,320.5 295.5,320.5 C292,320.5 288,316 288.3,309 Z" fill="#e5604e"/>
<rect x="292" y="318" width="7" height="7" fill="#f5bd9a"/>
<rect x="288.5" y="322" width="15" height="48" fill="#f7fbfa"/>
<path d="M294,323.5 L297.5,323.5 L299,357 L295.8,363 L292.6,357 Z" fill="#e5604e"/>
<rect x="288.5" y="367.5" width="15" height="2.8" fill="#1d4258"/>
<path d="M290,321 C280,323 273,326 272,336 L270,383 L277,384 L279,370 L289,370 Z" fill="#3a97a3"/>
<path d="M302,321 C312,323 318,326 319,336 L320.5,362 L313,378 L309,374 L315.5,370 L303,370 Z" fill="#3a97a3"/>
<path d="M271,383 L277,384 L277,390 L272,390 Z" fill="#f5bd9a"/>
<path d="M267,389 C270,383 277,383 280,389" fill="none" stroke="#9a4a40" stroke-width="1.2"/>
<rect x="263" y="389.5" width="20.5" height="23.5" rx="1.5" fill="#e5604e"/>
<path d="M309,373 L313,377 L311,380 L307.5,376 Z" fill="#f5bd9a"/>
</g>
<g>
<path d="M331,452 L337,452 L337.5,458.5 L330,458.5 Z" fill="#1d4258"/>
<path d="M356,449 L361,446 L372,457.5 L372,458.8 L361.5,458.8 L358.5,453 L358.5,458.8 L356.5,458.8 Z" fill="#1d4258"/>
<path d="M331.5,448 L336.5,448 L336.5,453 L331.5,453 Z M356,446 L360.5,444 L363,449 L358,451 Z" fill="#f5bd9a"/>
<path d="M326,371 L353,371 C355,390 355,400 357,415 L362.5,446 L356,449 L341,398 L337.5,450 L330.5,450 C328,420 324,395 326,371 Z" fill="#2a4b85"/>
<path d="M335,312 C328,314 327,324 327,332 C327,338 324,340 324.5,344 L334,338 L348,338 L349,325 C349,316 343,311 335,312 Z" fill="#1f4a6b"/>
<path d="M337,318 C340,315 346,316 347.5,320 L347.5,327 C347.5,331 345,333.5 342,333.5 C339,333.5 337,331 337,327 Z" fill="#f5bd9a"/>
<path d="M338.5,331 L344,331 L344.5,338 L338,338 Z" fill="#f5bd9a"/>
<rect x="337.5" y="336" width="11" height="37" fill="#f7fbfa"/>
<path d="M338,335.5 C328,337 323,341 323,350 L322.5,386 L339,384.5 L341,352 Z" fill="#ec7965"/>
<path d="M345,335.5 C351,337 354,341 354,350 L354.5,386 L347.5,384 L348.5,352 Z" fill="#ec7965"/>
<path d="M351.7,343.8 L372.3,343.4 L362.8,362 L342.6,364 Z" fill="#9dd3e0"/>
<path d="M342.6,364 L362.8,362 L362.5,363.8 L343,365.6 Z" fill="#f5bd9a"/>
<path d="M326,352 L341,358 L346,356.5 L346.5,360 L340,362.5 L324,358 Z" fill="#ec7965"/>
<path d="M330,353 L342,358" fill="none" stroke="#d4614f" stroke-width="0.9"/>
</g>
<line x1="111" y1="460" x2="380" y2="460" stroke="#1f4a5e" stroke-width="1.8"/>
</g>
<g id="part_pillar">
<line x1="512" y1="585.3" x2="656" y2="585.3" stroke="#1f4a5e" stroke-width="1.8"/>
<rect x="550" y="381" width="67" height="164" fill="#a7d5de" stroke="#1f4a5e" stroke-width="2"/>
<rect x="583.5" y="382" width="32.5" height="162" fill="#74bccb"/>
<rect x="551" y="382" width="5" height="162" fill="#86c6d3"/>
<rect x="550" y="381" width="67" height="164" fill="none" stroke="#1f4a5e" stroke-width="2"/>
<rect x="561.9" y="391" width="6.8" height="145" rx="3.4" fill="#d4ecf0" stroke="#1f4a5e" stroke-width="1.8"/>
<rect x="580.1" y="391" width="6.8" height="145" rx="3.4" fill="#d4ecf0" stroke="#1f4a5e" stroke-width="1.8"/>
<rect x="598.3000000000001" y="391" width="6.8" height="145" rx="3.4" fill="#d4ecf0" stroke="#1f4a5e" stroke-width="1.8"/>
<rect x="545" y="370" width="77" height="12" rx="2" fill="#d9aa45" stroke="#1f4a5e" stroke-width="2"/>
<rect x="538.5" y="356.5" width="90" height="14" rx="4" fill="#ee8070" stroke="#1f4a5e" stroke-width="2"/>
<path d="M583.5,357.5 L625,357.5 Q627.5,357.5 627.5,360 L627.5,367 Q627.5,369.5 625,369.5 L583.5,369.5 Z" fill="#e2584a"/>
<rect x="528" y="340" width="111.5" height="17.5" rx="6" fill="#b4dbe3" stroke="#1f4a5e" stroke-width="2"/>
<path d="M583.5,341 L633,341 Q638.5,341 638.5,346.5 L638.5,351 Q638.5,356.5 633,356.5 L583.5,356.5 Z" fill="#5fadbe"/>
<rect x="528" y="340" width="111.5" height="17.5" rx="6" fill="none" stroke="#1f4a5e" stroke-width="2"/>
<rect x="545" y="544" width="77" height="11.5" rx="2" fill="#d9aa45" stroke="#1f4a5e" stroke-width="2"/>
<rect x="538.5" y="555" width="90" height="14.5" rx="5" fill="#ea6f5e" stroke="#1f4a5e" stroke-width="2"/>
<path d="M528,584 L528,576 Q528,569 535,569 L632,569 Q639.5,569 639.5,576 L639.5,584 Z" fill="#b4dbe3" stroke="#1f4a5e" stroke-width="2"/>
<path d="M583.5,570 L632,570 Q638.5,570 638.5,576 L638.5,583 L583.5,583 Z" fill="#5fadbe"/>
<circle cx="464" cy="389.7" r="30.5" fill="#ea725f"/>
<circle cx="467" cy="501.3" r="31" fill="#d0a03c"/>
<circle cx="702.8" cy="391" r="30" fill="#a7d6de"/>
<circle cx="701" cy="501.3" r="30" fill="#21606f"/>
<path d="M506.5,388.4 L520,388.4 Q528.5,388.4 528.5,397 L528.5,416 Q528.5,425.5 541,425.5" fill="none" stroke="#ea7a68" stroke-width="2.2" stroke-linecap="round"/><circle cx="506.5" cy="388.4" r="3.8" fill="#ea7a68"/><circle cx="541" cy="425.5" r="3.8" fill="#ea7a68"/>
<path d="M541,463.6 Q528.5,463.6 528.5,473 L528.5,491 Q528.5,500.4 520,500.4 L508,500.4" fill="none" stroke="#d0a03c" stroke-width="2.2" stroke-linecap="round"/><circle cx="541" cy="463.6" r="3.8" fill="#d0a03c"/><circle cx="508" cy="500.4" r="3.8" fill="#d0a03c"/>
<path d="M660.5,388.4 L648,388.4 Q639,388.4 639,397 L639,416 Q639,425.5 626.7,425.5" fill="none" stroke="#93cbd8" stroke-width="2.2" stroke-linecap="round"/><circle cx="660.5" cy="388.4" r="3.8" fill="#93cbd8"/><circle cx="626.7" cy="425.5" r="3.8" fill="#93cbd8"/>
<path d="M626.7,463.7 Q639,463.7 639,473 L639,491 Q639,500 648,500 L658.4,500" fill="none" stroke="#23637a" stroke-width="2.2" stroke-linecap="round"/><circle cx="626.7" cy="463.7" r="3.8" fill="#23637a"/><circle cx="658.4" cy="500" r="3.8" fill="#23637a"/>
<text x="463" y="436.8" font-size="13" font-weight="bold" fill="#1b1b1b" text-anchor="middle" textLength="59" lengthAdjust="spacingAndGlyphs">Improves</text>
<text x="462.5" y="451.6" font-size="13" font-weight="bold" fill="#1b1b1b" text-anchor="middle" textLength="113.5" lengthAdjust="spacingAndGlyphs">Customer Service</text>
<text x="467" y="547.8" font-size="13" font-weight="bold" fill="#1b1b1b" text-anchor="middle" textLength="66" lengthAdjust="spacingAndGlyphs">Addresses</text>
<text x="467" y="563.2" font-size="13" font-weight="bold" fill="#1b1b1b" text-anchor="middle" textLength="105" lengthAdjust="spacingAndGlyphs">Safety Concerns</text>
<text x="703" y="436.8" font-size="13" font-weight="bold" fill="#1b1b1b" text-anchor="middle" textLength="60.5" lengthAdjust="spacingAndGlyphs">Growth &amp;</text>
<text x="703" y="451.6" font-size="13" font-weight="bold" fill="#1b1b1b" text-anchor="middle" textLength="94" lengthAdjust="spacingAndGlyphs">Efficiency Skill</text>
<text x="700.5" y="547.8" font-size="13" font-weight="bold" fill="#1b1b1b" text-anchor="middle" textLength="114" lengthAdjust="spacingAndGlyphs">Seamless Internal</text>
<text x="700.5" y="563.2" font-size="13" font-weight="bold" fill="#1b1b1b" text-anchor="middle" textLength="101.5" lengthAdjust="spacingAndGlyphs">Communication</text>
<g transform="translate(462.5,391) scale(1.13,1.12)" stroke="#1f4a5e" stroke-width="1.35" stroke-linejoin="round" stroke-linecap="round">
<path d="M-22,-9 L-14,-14 L-7,-1 L-15,4 Z" fill="#5aa9c2"/>
<path d="M22,-10 L14,-14 L8,-1 L16,4 Z" fill="#5aa9c2"/>
<path d="M-12,-9 L-3,-12 L3,-9 L10,-10 L14,-2 L8,8 L2,14 L-4,13 L-10,6 L-14,0 Z" fill="#f7cfa8"/>
<path d="M-3,-12 L-8,-3 C-6,-1 -3,-2 -1,-5 L3,-5 L11,3" fill="none"/>
<path d="M-11,5 C-13,7 -11,10 -8,8 C-9,11 -6,13 -4,10 C-5,13 -2,15 0,12 C0,15 3,16 5,13" fill="#f7cfa8"/>
<path d="M5,13 L7,10 M0,12 L3,8 M-4,10 L-1,6 M-8,8 L-5,4" fill="none"/>
</g>
<g transform="translate(467,501.3)" stroke-linejoin="round" stroke-linecap="round">
<path d="M0,-22 C6,-17 12,-15.5 18,-15.5 C19,0 13,14 0,22 C-13,14 -19,0 -18,-15.5 C-12,-15.5 -6,-17 0,-22 Z" fill="#f4fafa" stroke="#1f4a5e" stroke-width="1.7"/>
<path d="M0,-17 C5,-13.5 9,-12 14,-11.8 C14.5,0 10,11 0,17.5 C-10,11 -14.5,0 -14,-11.8 C-9,-12 -5,-13.5 0,-17 Z" fill="#7fcbd3"/>
<path d="M0,-17 C5,-13.5 9,-12 14,-11.8 C14.5,0 10,11 0,17.5 Z" fill="#4fb0bf"/>
<path d="M-6,0 L-1.5,5 L7,-5" fill="none" stroke="#1f4a5e" stroke-width="2.6"/>
</g>
<g transform="translate(702.8,391)" stroke="#1f4a5e" stroke-width="1.3" stroke-linejoin="round" stroke-linecap="round">
<rect x="-17" y="6" width="6.5" height="9" fill="#d9aa45"/>
<rect x="-7.5" y="1" width="6.5" height="14" fill="#4d9fc4"/>
<rect x="2" y="2" width="6.5" height="13" fill="#d9aa45"/>
<rect x="11.5" y="-8" width="6.5" height="23" fill="#e5604e"/>
<line x1="-20" y1="15.5" x2="20" y2="15.5" stroke-width="1.6"/>
<path d="M-18,-1 L-7,-11 L-1,-5 L12,-19" fill="none" stroke="#f0c46a" stroke-width="4.2"/>
<path d="M-18,-1 L-7,-11 L-1,-5 L12,-19" fill="none" stroke-width="1.2" transform="translate(0,-1.8)"/>
<path d="M-18,-1 L-7,-11 L-1,-5 L12,-19" fill="none" stroke-width="1.2" transform="translate(0,1.8)"/>
<path d="M17,-23 L8,-21 L14.5,-14 Z" fill="#f0c46a"/>
</g>
<g transform="translate(701,501.3)">
<circle cx="0" cy="1" r="13.5" fill="none" stroke="#bfe3e6" stroke-width="1.5" stroke-dasharray="7,5"/>
<circle cx="-12.5" cy="-16.5" r="3.2" fill="#eab04a" stroke="none"/><path d="M-18.0,-6.0 C-18.0,-11.5 -15.5,-12.5 -12.5,-12.5 C-9.5,-12.5 -7.0,-11.5 -7.0,-6.0 Z" fill="#eab04a" stroke="none"/>
<circle cx="12.5" cy="-16.5" r="3.2" fill="#eab04a" stroke="none"/><path d="M7.0,-6.0 C7.0,-11.5 9.5,-12.5 12.5,-12.5 C15.5,-12.5 18.0,-11.5 18.0,-6.0 Z" fill="#eab04a" stroke="none"/>
<circle cx="-12.5" cy="7.5" r="3.2" fill="#eab04a" stroke="none"/><path d="M-18.0,18.0 C-18.0,12.5 -15.5,11.5 -12.5,11.5 C-9.5,11.5 -7.0,12.5 -7.0,18.0 Z" fill="#eab04a" stroke="none"/>
<circle cx="12.5" cy="7.5" r="3.2" fill="#eab04a" stroke="none"/><path d="M7.0,18.0 C7.0,12.5 9.5,11.5 12.5,11.5 C15.5,11.5 18.0,12.5 18.0,18.0 Z" fill="#eab04a" stroke="none"/>
<circle cx="0" cy="-2" r="3.2" fill="#6fb6c8" stroke="none"/><path d="M-5.5,8.5 C-5.5,3 -3,2 0,2 C3,2 5.5,3 5.5,8.5 Z" fill="#6fb6c8" stroke="none"/>
</g>
</g>
<g id="part_learn">
<path d="M102,817.5 C99,800 100,775 104,750 C108,725 116,712 114,690 C112,670 113,655 124,643 C138,630 165,624 190,623.5 C215,623 230,636 245,634 C262,631 275,618 300,616 C330,614 365,628 382,640 C392,655 388,680 392,695 C395,705 386,712 387,722 C388,740 398,755 398,770 C398,790 394,805 390,817.5 Z" fill="#d2e9ed"/>
<path d="M144.6,668.7 L143.4,674.6 L139.3,673.9 L137.0,677.5 L139.1,681.0 L134.1,684.3 L131.7,681.0 L127.5,681.8 L126.5,685.8 L120.6,684.6 L121.3,680.5 L117.7,678.2 L114.2,680.3 L110.9,675.3 L114.2,672.9 L113.4,668.7 L109.4,667.7 L110.6,661.8 L114.7,662.5 L117.0,658.9 L114.9,655.4 L119.9,652.1 L122.3,655.4 L126.5,654.6 L127.5,650.6 L133.4,651.8 L132.7,655.9 L136.3,658.2 L139.8,656.1 L143.1,661.1 L139.8,663.5 L140.6,667.7Z" fill="#ec7560" stroke="#1f4a5e" stroke-width="1.7" stroke-linejoin="round"/><circle cx="127" cy="668.2" r="7" fill="#e3f1f3" stroke="#1f4a5e" stroke-width="1.7"/>
<path d="M179.6,648.7 L179.2,652.0 L176.8,651.8 L175.7,653.8 L177.3,655.7 L174.7,657.8 L173.1,655.9 L171.0,656.5 L170.7,659.0 L167.4,658.6 L167.6,656.2 L165.6,655.1 L163.7,656.7 L161.6,654.1 L163.5,652.5 L162.9,650.4 L160.4,650.1 L160.8,646.8 L163.2,647.0 L164.3,645.0 L162.7,643.1 L165.3,641.0 L166.9,642.9 L169.0,642.3 L169.3,639.8 L172.6,640.2 L172.4,642.6 L174.4,643.7 L176.3,642.1 L178.4,644.7 L176.5,646.3 L177.1,648.4Z" fill="#4cb0b9" stroke="none" stroke-linejoin="round"/><circle cx="170" cy="649.4" r="3.8" fill="#d2e9ed" stroke="none"/>
<path d="M150,681 L170.5,681 Q173.5,681 173.5,684 L173.5,692.5 Q173.5,695.5 170.5,695.5 L154,695.5 L149.5,700 L150,695.5 Q147,695.5 147,692.5 L147,684 Q147,681 150,681 Z" fill="#3a9ca8" stroke="#1f4a5e" stroke-width="1.4" stroke-linejoin="round"/>
<rect x="152.5" y="686.8" width="4" height="3" rx="1.2" fill="#eef7f7"/>
<rect x="158.2" y="686.8" width="4" height="3" rx="1.2" fill="#eef7f7"/>
<rect x="164" y="686.8" width="4" height="3" rx="1.2" fill="#eef7f7"/>
<line x1="173.6" y1="665" x2="184.5" y2="681.3" stroke="#ef9078" stroke-width="2.6" stroke-linecap="round"/>
<line x1="149.5" y1="656" x2="152" y2="660.5" stroke="#4cb0b9" stroke-width="1.6" stroke-linecap="round"/>
<circle cx="187" cy="638.4" r="2" fill="#ee7b64"/><circle cx="112.3" cy="699.5" r="2" fill="#e2b653"/><circle cx="109.4" cy="713" r="2.6" fill="#4cb0b9"/>
<path d="M283.5,626 L296,628.5 L297.5,635 L282.5,634.5 Z" fill="#e2b04a"/>
<line x1="301" y1="638.5" x2="310.5" y2="630.8" stroke="#2f8d99" stroke-width="1.8" stroke-linecap="round"/>
<path d="M269.5,637.5 L271.5,635 L272.5,637.5 Z" fill="#2f8d99"/>
<circle cx="341" cy="705.8" r="2.2" fill="#4cb0b9"/><circle cx="387" cy="712.2" r="2.3" fill="#ee7b64"/><circle cx="300" cy="781" r="3" fill="#4cb0b9"/>
<line x1="201.5" y1="789" x2="217" y2="775.5" stroke="#d9ad45" stroke-width="2.4" stroke-linecap="round"/><line x1="213.5" y1="798.5" x2="216.5" y2="791" stroke="#d9ad45" stroke-width="2" stroke-linecap="round"/>
<line x1="283.5" y1="774" x2="290.5" y2="784.5" stroke="#d9ad45" stroke-width="1.8" stroke-linecap="round"/>
<rect x="193.5" y="648" width="118" height="116.5" rx="5" fill="#fbfdfc" stroke="#1f4a5e" stroke-width="1.6"/>
<path d="M198.5,648 L306.5,648 Q311.5,648 311.5,653 L311.5,659.5 L193.5,659.5 L193.5,653 Q193.5,648 198.5,648 Z" fill="#2f8d99" stroke="#1f4a5e" stroke-width="1.6"/>
<circle cx="202" cy="654" r="2.2" fill="#ee6a5a"/><circle cx="209.7" cy="654" r="2.2" fill="#e8c255"/><circle cx="217.5" cy="654" r="2.2" fill="#e6d98a"/>
<clipPath id="imgc"><rect x="201" y="666.5" width="60.5" height="66.5" rx="4"/></clipPath>
<g clip-path="url(#imgc)"><rect x="201" y="666.5" width="60.5" height="66.5" fill="#a9d9e2"/><path d="M201,733 L201,716 C212,704 225,698 236,705 L262,690 L262,733 Z" fill="#d2a83e"/><path d="M262,690 L244,702 L262,712 Z" fill="#e0b64a"/><path d="M208,683 C214,674 226,670 236,673 L232,684 C224,684 215,687 208,683 Z" fill="#ec7560"/><path d="M228,708 L238,710 L226,722 L212,731 L206,730 L218,718 Z" fill="#1f5068"/><path d="M232,708 L241,706 L252,720 L256,731 L250,732 L243,720 Z" fill="#1f5068"/><path d="M226,686 L242,684 L243,710 L227,711 Z" fill="#2f8d99"/><path d="M227,688 L215,684 L207,676 L209.5,674 L217,680 L229,683 Z" fill="#2f8d99"/><path d="M240,685 L252,680 L259,671 L261.5,673 L255,684 L242,691 Z" fill="#ef8468"/><circle cx="207.5" cy="674.5" r="2" fill="#ef8468"/><ellipse cx="235.5" cy="679" rx="4.6" ry="5.4" fill="#ef8468"/><path d="M230.5,679 C229.5,672 236,671 240,673.5 C241,675 240.5,676.5 240,677.5 C237,675.5 233,676 230.5,679 Z" fill="#1f4a6b"/></g>
<line x1="202.5" y1="740.5" x2="254" y2="740.5" stroke="#a9d9e2" stroke-width="3.2" stroke-linecap="round"/>
<line x1="202.5" y1="747" x2="230.5" y2="747" stroke="#a9d9e2" stroke-width="3.2" stroke-linecap="round"/>
<line x1="202.5" y1="753.6" x2="242.5" y2="753.6" stroke="#a9d9e2" stroke-width="3.2" stroke-linecap="round"/>
<rect x="267" y="667" width="39" height="36" rx="4.5" fill="#cfe7ec"/>
<circle cx="272.5" cy="673.6" r="2" fill="#ee6a5a"/><line x1="278" y1="673.6" x2="298.5" y2="673.6" stroke="#8fcdd6" stroke-width="2.2" stroke-linecap="round"/>
<rect x="271.3" y="683.5" width="30.3" height="15.3" rx="4.5" fill="#f08068"/><line x1="276.5" y1="689" x2="296" y2="689" stroke="#fbe6df" stroke-width="1.8" stroke-linecap="round"/><line x1="276.5" y1="693.6" x2="290" y2="693.6" stroke="#fbe6df" stroke-width="1.8" stroke-linecap="round"/>
<rect x="267" y="711" width="39" height="45.5" rx="4.5" fill="#cfe7ec"/>
<rect x="270.6" y="715.2" width="31.7" height="12" rx="4" fill="#2f8d99"/>
<circle cx="273" cy="735.2" r="1.3" fill="#ee6a5a"/><line x1="278" y1="735.2" x2="299.5" y2="735.2" stroke="#8fcdd6" stroke-width="2.2" stroke-linecap="round"/>
<circle cx="273" cy="740.6" r="1.3" fill="#ee6a5a"/><line x1="278" y1="740.6" x2="299.5" y2="740.6" stroke="#8fcdd6" stroke-width="2.2" stroke-linecap="round"/>
<circle cx="273" cy="746" r="1.3" fill="#ee6a5a"/><line x1="278" y1="746" x2="299.5" y2="746" stroke="#8fcdd6" stroke-width="2.2" stroke-linecap="round"/>
<rect x="323.5" y="628.2" width="58.3" height="65.2" rx="3.5" fill="#f4fafa" stroke="#1f4a5e" stroke-width="1.6"/>
<path d="M327,628.2 L378.3,628.2 Q381.8,628.2 381.8,631.7 L381.8,638.6 L323.5,638.6 L323.5,631.7 Q323.5,628.2 327,628.2 Z" fill="#2f8d99" stroke="#1f4a5e" stroke-width="1.6"/>
<circle cx="329.6" cy="633.3" r="1.9" fill="#ee6a5a"/><circle cx="335.4" cy="633.3" r="1.9" fill="#f4f2e6"/>
<rect x="328" y="641.8" width="49.5" height="46.4" fill="#cfe7ec"/>
<ellipse cx="352.5" cy="650.5" rx="9" ry="2.6" fill="#f1dfb4"/><ellipse cx="354" cy="679" rx="9" ry="5" fill="#f4efe2"/>
<path d="M340,652 C345,650.5 360,650.5 365,652 C369,653.5 371.5,665 371.8,672 C372,679 367,680.5 364,676 C361,671.5 360,669.5 357,669.5 L348,669.5 C345,669.5 344,671.5 341,676 C338,680.5 333,679 333.2,672 C333.5,665 336,653.5 340,652 Z" fill="#2a6f85" stroke="#1f4a5e" stroke-width="1"/>
<path d="M342.5,656 L342.5,662.5 M339.2,659.2 L345.8,659.2" stroke="#eef7f7" stroke-width="1.8" fill="none" stroke-linecap="round"/>
<circle cx="362.8" cy="656" r="1.3" fill="#e2b653"/><circle cx="365.7" cy="659.2" r="1.3" fill="#ee7b64"/><circle cx="359.8" cy="659.6" r="1.3" fill="#7fd0d6"/><circle cx="362.8" cy="662.6" r="1.3" fill="#7fd0d6"/><circle cx="348" cy="665" r="1.8" fill="#7fd0d6"/><circle cx="357.5" cy="665" r="1.8" fill="#7fd0d6"/>
<path d="M349,727 L357,722 L365,727 L364,719 L350,719 Z" fill="#dbeef2"/><circle cx="357" cy="712" r="6.2" fill="#e9c46f"/><path d="M350.5,711 C350.5,702.5 363.5,702.5 363.5,711" fill="none" stroke="#d9a93f" stroke-width="2"/><rect x="349" y="709.5" width="3" height="5.5" rx="1.3" fill="#d9a93f"/><rect x="362" y="709.5" width="3" height="5.5" rx="1.3" fill="#d9a93f"/><path d="M355,717.5 L359,717.5 L357,722.5 Z" fill="#ef9a78"/>
<rect x="227.2" y="775.6" width="50.3" height="18.6" rx="9.3" fill="#f08068" stroke="#1f4a5e" stroke-width="1.4"/>
<path d="M264,787.5 L279,795 L273,797 L277.5,804.5 L274.5,806 L270.3,798.8 L266,803 Z" fill="#fbfdfc" stroke="#1f4a5e" stroke-width="1.3" stroke-linejoin="round"/>
<g>
<path d="M120.5,809 L124,806.5 L127,812 L133,816.8 L122,816.8 Z M139,809 L143,808 L146,813 L152,816.8 L141.5,816.8 L141.5,812 Z" fill="#1d4d66"/>
<path d="M129.5,779 L137,779 L133,797 L125,811 L121.5,809 L127,795 Z M139,779 L146,779 L144.5,797 L143,810.5 L139.5,810.5 L139,797 Z" fill="#f08a6c"/>
<path d="M129,747 L147,747 C148,760 148,770 147.5,781.5 L126.5,781.5 C126,770 127,758 129,747 Z" fill="#1d4d66"/>
<path d="M133,706 C126,708 125,718 123,724 C121,730 118,732 121,737 C126,736 130,730 133,726 L144,722 L145,712 C144,706 138,704 133,706 Z" fill="#1f4a6b"/>
<path d="M135.5,711 C138,708 143.5,709 144.8,712.5 L144.8,719 C144.8,722.5 142.5,724.8 140,724.8 C137.5,724.8 135.5,722.5 135.5,719 Z" fill="#f3a583"/>
<path d="M137.5,723 L142,723 L142,728 L137.5,728 Z" fill="#f3a583"/>
<path d="M136,726 C128,727.5 124.5,731 124,738 L123.5,748.5 L147,748.5 L147,738 C147,731 146,728 143,726 L139.5,734 Z" fill="#4aa5b8"/>
<path d="M136.5,726 L139.5,735 L143,726 L141.8,725.5 L139.6,730 L137.8,725.5 Z" fill="#f7fbfa"/>
<path d="M144.7,730.6 L158.8,730.6 L153,747 L140,748 Z" fill="#1f4a5e"/>
<path d="M125,737 L138,744.5 L142.5,743.5 L143,746.5 L137.5,748.5 L124,743 Z" fill="#3f98ab"/>
<path d="M141.5,739.5 L145.5,739 L146,742 L142,742.5 Z" fill="#f3a583"/>
</g>
<g>
<path d="M165,810 L174,810 L174.5,816.8 L163.5,816.8 Z M183,810 L191,810 L198,816.8 L184,816.8 Z" fill="#ee8c66"/>
<path d="M166.5,756 L191,756 L191,811 L183,811 L179.5,772 L174.5,811 L165,811 Z" fill="#1d4d66"/>
<path d="M173.5,704.5 C176,701 182,700.5 184.5,703 C184.5,706 183,707.5 181,708 C178,707 175,708 173.5,710.5 Z" fill="#1f4a6b"/>
<path d="M174.5,708.5 C177,706 182,706 183.8,709 L184.6,714 L183.2,717.5 C181,719.5 177.5,719 175.8,716.5 Z" fill="#ee8c66"/>
<path d="M176.5,716 L181.5,716 L182,722 L176,722 Z" fill="#ee8c66"/>
<path d="M172,720.5 C164,722 160,727 159.5,735 C159,742 160,748 163,752 L166,750.5 L166,759 L191.5,759 L191.5,736 L206,728.5 L204.5,724.5 L190,728 C188,723 184,720.5 180,720.5 Z" fill="#d2a03c"/>
<path d="M163.5,733 C162,739 163,745 166,750" fill="none" stroke="#b88a2e" stroke-width="1"/>
<path d="M204.5,724.5 L209.5,722.5 L210.5,726 L206,728.5 Z" fill="#ee8c66"/>
</g>
<g>
<path d="M311,812 L323.5,811 L323.5,817 L309.5,817 Z M342.5,806.5 L349,803.5 L353.5,808 L347,816.8 L343,816.8 Z" fill="#1f4258"/>
<path d="M318.5,753 L345,753 C346,765 344,775 341,783 L349.5,804 L343,807.5 L331.5,785 L328,768 L324,812 L316.5,812 Z" fill="#2f8490"/>
<path d="M319.5,703.5 C322,700.5 329,700.5 331,704 C331.5,707 330.5,709 329,711 L326,706.5 L320.5,707 Z" fill="#1f4a6b"/>
<path d="M320.5,706.5 L326.5,706 L329,711 L329,716 C327.5,719 323.5,719.5 321.5,717 L320,712 Z" fill="#c9794f"/>
<path d="M323,716 L328.5,716 L329,722 L323,722 Z" fill="#c9794f"/>
<path d="M321.5,720.5 C317,721.5 314,725 310.5,729 L296,723.5 L294.5,727 L309.5,736 L317.5,732.5 L317,756 L345.5,756 L345,742 L343.5,764 L348,764 L349.5,738 C349.5,727 343,721.5 334,720.5 Z" fill="#ee7b64"/>
<path d="M290.5,720.5 L296,723.5 L294.5,727 L290,724.5 Z" fill="#c9794f"/>
<path d="M340,726 C346,728 349,734 349.5,742 L348.5,764 L343,764 L342,742 Z" fill="#e56f58"/>
<path d="M343.2,763.5 L348.3,763.5 L348.8,769.5 L344.5,770 Z" fill="#c9794f"/>
</g>
<g>
<path d="M369.5,797 C368.5,780 371,765 373,752 M369.5,797 C366,785 360,775 352,768 M370,797 C373,783 380,772 388,764" fill="none" stroke="#1f5068" stroke-width="1.2"/>
<path d="M374,733.5 C362,742 357,758 362.5,771 C364.5,776 367.5,780 369.5,783 C379,774 385,754 374,733.5 Z" fill="#3aa0ad"/>
<path d="M343,760.5 C343.5,774 351,785 364.5,789.5 C368,781 362,765 343,760.5 Z" fill="#2a6f85"/>
<path d="M391,760.5 C379,761 370.5,770 370,787 C382,786.5 391,777 391,760.5 Z" fill="#3aa0ad"/>
<path d="M374,736 C372,750 370,765 369.5,783 M345,762 C352,770 360,780 364,789 M390,762 C382,770 374,779 370.5,787" fill="none" stroke="#1f5068" stroke-width="0.9"/>
<path d="M357.6,796.8 L381.8,796.8 L379,816.6 L360.5,816.6 Z" fill="#ee7b64"/>
<line x1="358" y1="801.5" x2="381.4" y2="801.5" stroke="#1f4a5e" stroke-width="1"/>
</g>
<line x1="89" y1="817.2" x2="400" y2="817.2" stroke="#1f4a5e" stroke-width="1.6"/>
</g>
<g id="part_logo">
<g fill="none" stroke="#161616" stroke-width="1.7" stroke-linecap="butt">
<path d="M1483.9,886.9 L1483.9,883.6 A7.1,7.1 0 0 1 1498.1,883.6 L1498.1,886.9"/>
<path d="M1485.6,881.2 A6.6,6.6 0 0 1 1494.6,886.9"/>
<path d="M1484.4,884.4 A4.4,4.4 0 0 1 1490.9,886.9"/>
</g><text x="1505.3" y="886.8" font-size="15.2" font-weight="normal" fill="#161616" text-anchor="start" textLength="88.6" lengthAdjust="spacingAndGlyphs" stroke="#161616" stroke-width="0.35">NotebookLM</text>
</g>
</svg>
</body></html>
